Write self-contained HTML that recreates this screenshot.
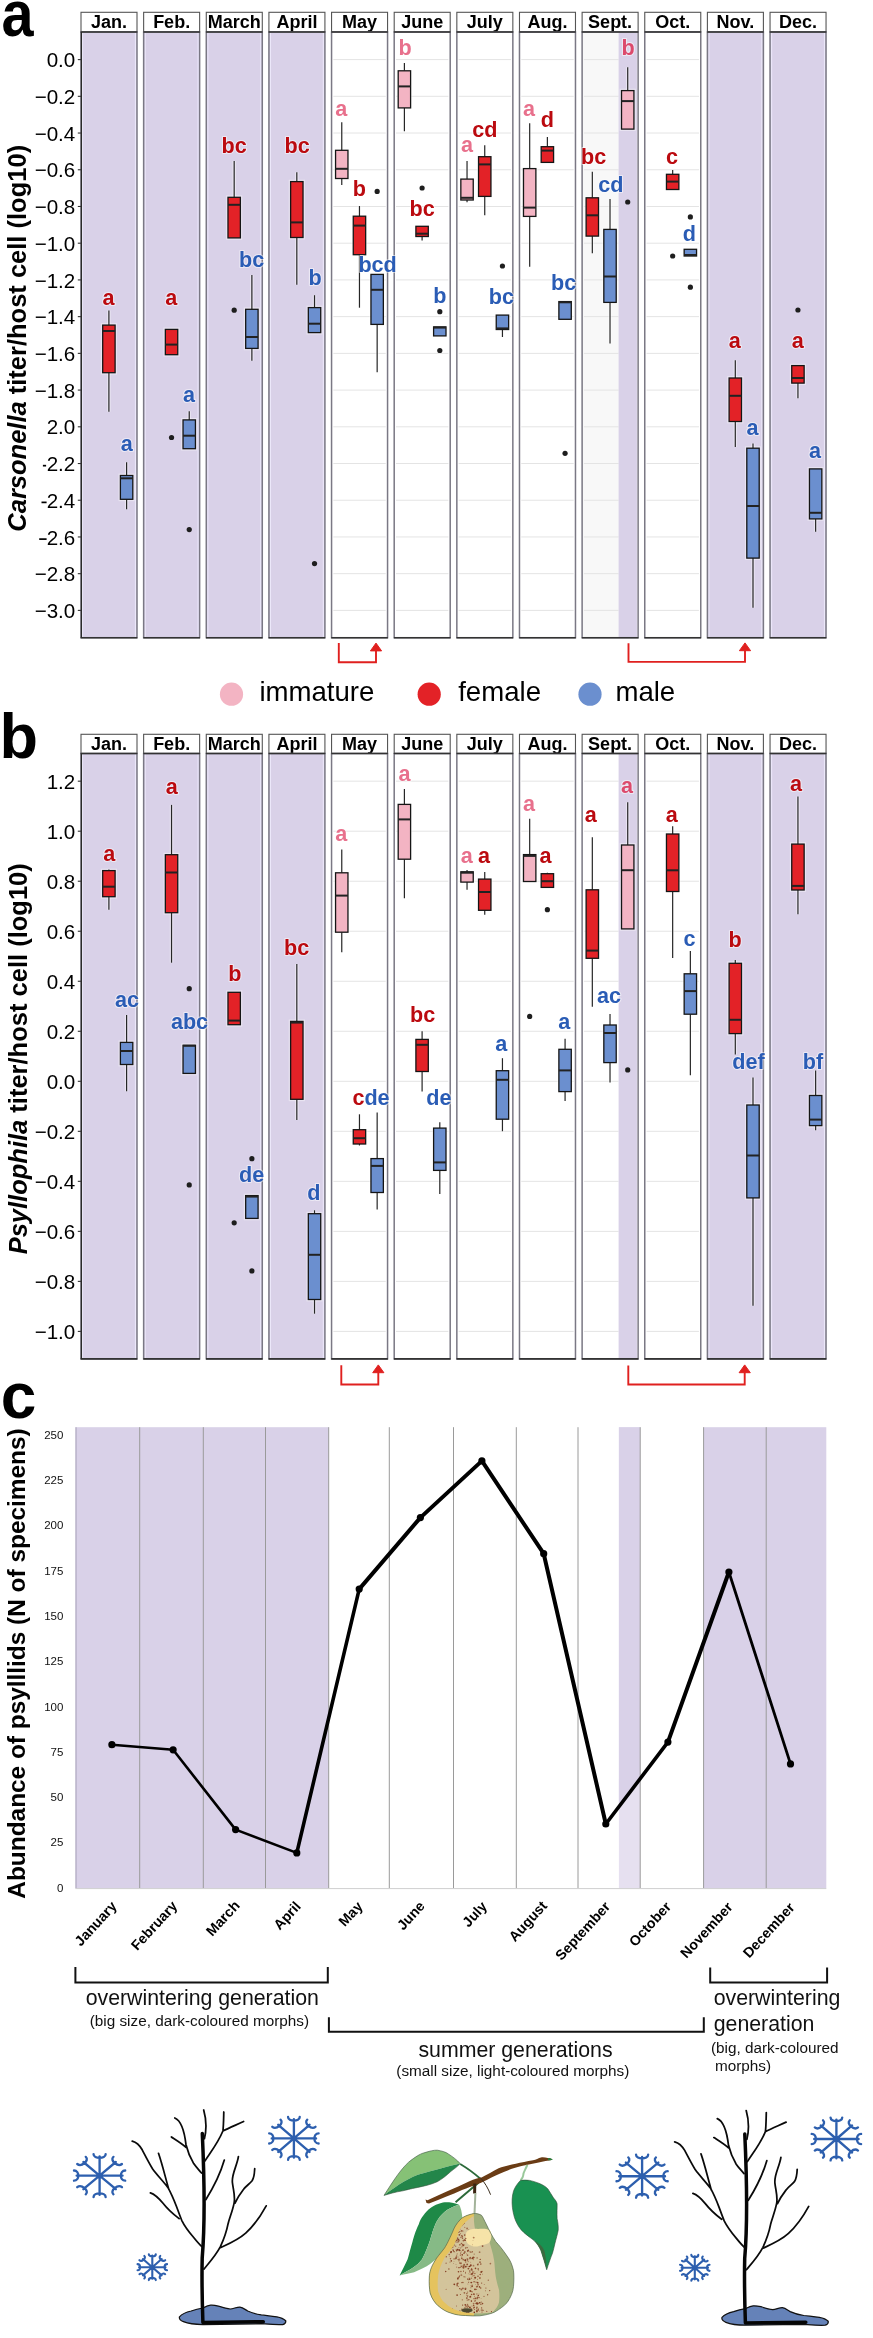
<!DOCTYPE html><html><head><meta charset="utf-8"><title>Figure</title>
<style>html,body{margin:0;padding:0;background:#fff;width:873px;height:2338px;overflow:hidden}svg{display:block;will-change:transform}svg text{font-family:"Liberation Sans",sans-serif}</style></head><body>
<svg width="873" height="2338" viewBox="0 0 873 2338">
<rect width="873" height="2338" fill="#fff"/>
<text transform="translate(1.4,35.5) scale(0.9,1)" font-size="64" font-weight="bold" fill="#000" font-family="Liberation Sans, sans-serif">a</text>
<rect x="81.00" y="12.30" width="56.0" height="19.70" fill="#fff" stroke="#555" stroke-width="1.1"/>
<text x="109.00" y="28.20" text-anchor="middle" font-size="18" font-weight="bold" fill="#000" font-family="Liberation Sans, sans-serif">Jan.</text>
<rect x="81.00" y="32.00" width="56.0" height="605.70" fill="#d9d1e8"/>
<line x1="82.55" x2="82.55" y1="32.00" y2="637.70" stroke="#ece8fa" stroke-width="1.1"/>
<line x1="135.45" x2="135.45" y1="32.00" y2="637.70" stroke="#ece8fa" stroke-width="1.1"/>
<rect x="143.64" y="12.30" width="56.0" height="19.70" fill="#fff" stroke="#555" stroke-width="1.1"/>
<text x="171.64" y="28.20" text-anchor="middle" font-size="18" font-weight="bold" fill="#000" font-family="Liberation Sans, sans-serif">Feb.</text>
<rect x="143.64" y="32.00" width="56.0" height="605.70" fill="#d9d1e8"/>
<line x1="145.19" x2="145.19" y1="32.00" y2="637.70" stroke="#ece8fa" stroke-width="1.1"/>
<line x1="198.09" x2="198.09" y1="32.00" y2="637.70" stroke="#ece8fa" stroke-width="1.1"/>
<rect x="206.28" y="12.30" width="56.0" height="19.70" fill="#fff" stroke="#555" stroke-width="1.1"/>
<text x="234.28" y="28.20" text-anchor="middle" font-size="18" font-weight="bold" fill="#000" font-family="Liberation Sans, sans-serif">March</text>
<rect x="206.28" y="32.00" width="56.0" height="605.70" fill="#d9d1e8"/>
<line x1="207.83" x2="207.83" y1="32.00" y2="637.70" stroke="#ece8fa" stroke-width="1.1"/>
<line x1="260.73" x2="260.73" y1="32.00" y2="637.70" stroke="#ece8fa" stroke-width="1.1"/>
<rect x="268.92" y="12.30" width="56.0" height="19.70" fill="#fff" stroke="#555" stroke-width="1.1"/>
<text x="296.92" y="28.20" text-anchor="middle" font-size="18" font-weight="bold" fill="#000" font-family="Liberation Sans, sans-serif">April</text>
<rect x="268.92" y="32.00" width="56.0" height="605.70" fill="#d9d1e8"/>
<line x1="270.47" x2="270.47" y1="32.00" y2="637.70" stroke="#ece8fa" stroke-width="1.1"/>
<line x1="323.37" x2="323.37" y1="32.00" y2="637.70" stroke="#ece8fa" stroke-width="1.1"/>
<rect x="331.56" y="12.30" width="56.0" height="19.70" fill="#fff" stroke="#555" stroke-width="1.1"/>
<text x="359.56" y="28.20" text-anchor="middle" font-size="18" font-weight="bold" fill="#000" font-family="Liberation Sans, sans-serif">May</text>
<rect x="331.56" y="32.00" width="56.0" height="605.70" fill="#fff"/>
<line x1="333.36" x2="385.76" y1="59.60" y2="59.60" stroke="#e4e4e4" stroke-width="1"/>
<line x1="333.36" x2="385.76" y1="96.32" y2="96.32" stroke="#e4e4e4" stroke-width="1"/>
<line x1="333.36" x2="385.76" y1="133.04" y2="133.04" stroke="#e4e4e4" stroke-width="1"/>
<line x1="333.36" x2="385.76" y1="169.76" y2="169.76" stroke="#e4e4e4" stroke-width="1"/>
<line x1="333.36" x2="385.76" y1="206.48" y2="206.48" stroke="#e4e4e4" stroke-width="1"/>
<line x1="333.36" x2="385.76" y1="243.20" y2="243.20" stroke="#e4e4e4" stroke-width="1"/>
<line x1="333.36" x2="385.76" y1="279.92" y2="279.92" stroke="#e4e4e4" stroke-width="1"/>
<line x1="333.36" x2="385.76" y1="316.64" y2="316.64" stroke="#e4e4e4" stroke-width="1"/>
<line x1="333.36" x2="385.76" y1="353.36" y2="353.36" stroke="#e4e4e4" stroke-width="1"/>
<line x1="333.36" x2="385.76" y1="390.08" y2="390.08" stroke="#e4e4e4" stroke-width="1"/>
<line x1="333.36" x2="385.76" y1="426.80" y2="426.80" stroke="#e4e4e4" stroke-width="1"/>
<line x1="333.36" x2="385.76" y1="463.52" y2="463.52" stroke="#e4e4e4" stroke-width="1"/>
<line x1="333.36" x2="385.76" y1="500.24" y2="500.24" stroke="#e4e4e4" stroke-width="1"/>
<line x1="333.36" x2="385.76" y1="536.96" y2="536.96" stroke="#e4e4e4" stroke-width="1"/>
<line x1="333.36" x2="385.76" y1="573.68" y2="573.68" stroke="#e4e4e4" stroke-width="1"/>
<line x1="333.36" x2="385.76" y1="610.40" y2="610.40" stroke="#e4e4e4" stroke-width="1"/>
<rect x="394.20" y="12.30" width="56.0" height="19.70" fill="#fff" stroke="#555" stroke-width="1.1"/>
<text x="422.20" y="28.20" text-anchor="middle" font-size="18" font-weight="bold" fill="#000" font-family="Liberation Sans, sans-serif">June</text>
<rect x="394.20" y="32.00" width="56.0" height="605.70" fill="#fff"/>
<line x1="396.00" x2="448.40" y1="59.60" y2="59.60" stroke="#e4e4e4" stroke-width="1"/>
<line x1="396.00" x2="448.40" y1="96.32" y2="96.32" stroke="#e4e4e4" stroke-width="1"/>
<line x1="396.00" x2="448.40" y1="133.04" y2="133.04" stroke="#e4e4e4" stroke-width="1"/>
<line x1="396.00" x2="448.40" y1="169.76" y2="169.76" stroke="#e4e4e4" stroke-width="1"/>
<line x1="396.00" x2="448.40" y1="206.48" y2="206.48" stroke="#e4e4e4" stroke-width="1"/>
<line x1="396.00" x2="448.40" y1="243.20" y2="243.20" stroke="#e4e4e4" stroke-width="1"/>
<line x1="396.00" x2="448.40" y1="279.92" y2="279.92" stroke="#e4e4e4" stroke-width="1"/>
<line x1="396.00" x2="448.40" y1="316.64" y2="316.64" stroke="#e4e4e4" stroke-width="1"/>
<line x1="396.00" x2="448.40" y1="353.36" y2="353.36" stroke="#e4e4e4" stroke-width="1"/>
<line x1="396.00" x2="448.40" y1="390.08" y2="390.08" stroke="#e4e4e4" stroke-width="1"/>
<line x1="396.00" x2="448.40" y1="426.80" y2="426.80" stroke="#e4e4e4" stroke-width="1"/>
<line x1="396.00" x2="448.40" y1="463.52" y2="463.52" stroke="#e4e4e4" stroke-width="1"/>
<line x1="396.00" x2="448.40" y1="500.24" y2="500.24" stroke="#e4e4e4" stroke-width="1"/>
<line x1="396.00" x2="448.40" y1="536.96" y2="536.96" stroke="#e4e4e4" stroke-width="1"/>
<line x1="396.00" x2="448.40" y1="573.68" y2="573.68" stroke="#e4e4e4" stroke-width="1"/>
<line x1="396.00" x2="448.40" y1="610.40" y2="610.40" stroke="#e4e4e4" stroke-width="1"/>
<rect x="456.84" y="12.30" width="56.0" height="19.70" fill="#fff" stroke="#555" stroke-width="1.1"/>
<text x="484.84" y="28.20" text-anchor="middle" font-size="18" font-weight="bold" fill="#000" font-family="Liberation Sans, sans-serif">July</text>
<rect x="456.84" y="32.00" width="56.0" height="605.70" fill="#fff"/>
<line x1="458.64" x2="511.04" y1="59.60" y2="59.60" stroke="#e4e4e4" stroke-width="1"/>
<line x1="458.64" x2="511.04" y1="96.32" y2="96.32" stroke="#e4e4e4" stroke-width="1"/>
<line x1="458.64" x2="511.04" y1="133.04" y2="133.04" stroke="#e4e4e4" stroke-width="1"/>
<line x1="458.64" x2="511.04" y1="169.76" y2="169.76" stroke="#e4e4e4" stroke-width="1"/>
<line x1="458.64" x2="511.04" y1="206.48" y2="206.48" stroke="#e4e4e4" stroke-width="1"/>
<line x1="458.64" x2="511.04" y1="243.20" y2="243.20" stroke="#e4e4e4" stroke-width="1"/>
<line x1="458.64" x2="511.04" y1="279.92" y2="279.92" stroke="#e4e4e4" stroke-width="1"/>
<line x1="458.64" x2="511.04" y1="316.64" y2="316.64" stroke="#e4e4e4" stroke-width="1"/>
<line x1="458.64" x2="511.04" y1="353.36" y2="353.36" stroke="#e4e4e4" stroke-width="1"/>
<line x1="458.64" x2="511.04" y1="390.08" y2="390.08" stroke="#e4e4e4" stroke-width="1"/>
<line x1="458.64" x2="511.04" y1="426.80" y2="426.80" stroke="#e4e4e4" stroke-width="1"/>
<line x1="458.64" x2="511.04" y1="463.52" y2="463.52" stroke="#e4e4e4" stroke-width="1"/>
<line x1="458.64" x2="511.04" y1="500.24" y2="500.24" stroke="#e4e4e4" stroke-width="1"/>
<line x1="458.64" x2="511.04" y1="536.96" y2="536.96" stroke="#e4e4e4" stroke-width="1"/>
<line x1="458.64" x2="511.04" y1="573.68" y2="573.68" stroke="#e4e4e4" stroke-width="1"/>
<line x1="458.64" x2="511.04" y1="610.40" y2="610.40" stroke="#e4e4e4" stroke-width="1"/>
<rect x="519.48" y="12.30" width="56.0" height="19.70" fill="#fff" stroke="#555" stroke-width="1.1"/>
<text x="547.48" y="28.20" text-anchor="middle" font-size="18" font-weight="bold" fill="#000" font-family="Liberation Sans, sans-serif">Aug.</text>
<rect x="519.48" y="32.00" width="56.0" height="605.70" fill="#fff"/>
<line x1="521.28" x2="573.68" y1="59.60" y2="59.60" stroke="#e4e4e4" stroke-width="1"/>
<line x1="521.28" x2="573.68" y1="96.32" y2="96.32" stroke="#e4e4e4" stroke-width="1"/>
<line x1="521.28" x2="573.68" y1="133.04" y2="133.04" stroke="#e4e4e4" stroke-width="1"/>
<line x1="521.28" x2="573.68" y1="169.76" y2="169.76" stroke="#e4e4e4" stroke-width="1"/>
<line x1="521.28" x2="573.68" y1="206.48" y2="206.48" stroke="#e4e4e4" stroke-width="1"/>
<line x1="521.28" x2="573.68" y1="243.20" y2="243.20" stroke="#e4e4e4" stroke-width="1"/>
<line x1="521.28" x2="573.68" y1="279.92" y2="279.92" stroke="#e4e4e4" stroke-width="1"/>
<line x1="521.28" x2="573.68" y1="316.64" y2="316.64" stroke="#e4e4e4" stroke-width="1"/>
<line x1="521.28" x2="573.68" y1="353.36" y2="353.36" stroke="#e4e4e4" stroke-width="1"/>
<line x1="521.28" x2="573.68" y1="390.08" y2="390.08" stroke="#e4e4e4" stroke-width="1"/>
<line x1="521.28" x2="573.68" y1="426.80" y2="426.80" stroke="#e4e4e4" stroke-width="1"/>
<line x1="521.28" x2="573.68" y1="463.52" y2="463.52" stroke="#e4e4e4" stroke-width="1"/>
<line x1="521.28" x2="573.68" y1="500.24" y2="500.24" stroke="#e4e4e4" stroke-width="1"/>
<line x1="521.28" x2="573.68" y1="536.96" y2="536.96" stroke="#e4e4e4" stroke-width="1"/>
<line x1="521.28" x2="573.68" y1="573.68" y2="573.68" stroke="#e4e4e4" stroke-width="1"/>
<line x1="521.28" x2="573.68" y1="610.40" y2="610.40" stroke="#e4e4e4" stroke-width="1"/>
<rect x="582.12" y="12.30" width="56.0" height="19.70" fill="#fff" stroke="#555" stroke-width="1.1"/>
<text x="610.12" y="28.20" text-anchor="middle" font-size="18" font-weight="bold" fill="#000" font-family="Liberation Sans, sans-serif">Sept.</text>
<rect x="582.12" y="32.00" width="56.0" height="605.70" fill="#f8f8f8"/>
<line x1="583.92" x2="618.60" y1="59.60" y2="59.60" stroke="#e4e4e4" stroke-width="1"/>
<line x1="583.92" x2="618.60" y1="96.32" y2="96.32" stroke="#e4e4e4" stroke-width="1"/>
<line x1="583.92" x2="618.60" y1="133.04" y2="133.04" stroke="#e4e4e4" stroke-width="1"/>
<line x1="583.92" x2="618.60" y1="169.76" y2="169.76" stroke="#e4e4e4" stroke-width="1"/>
<line x1="583.92" x2="618.60" y1="206.48" y2="206.48" stroke="#e4e4e4" stroke-width="1"/>
<line x1="583.92" x2="618.60" y1="243.20" y2="243.20" stroke="#e4e4e4" stroke-width="1"/>
<line x1="583.92" x2="618.60" y1="279.92" y2="279.92" stroke="#e4e4e4" stroke-width="1"/>
<line x1="583.92" x2="618.60" y1="316.64" y2="316.64" stroke="#e4e4e4" stroke-width="1"/>
<line x1="583.92" x2="618.60" y1="353.36" y2="353.36" stroke="#e4e4e4" stroke-width="1"/>
<line x1="583.92" x2="618.60" y1="390.08" y2="390.08" stroke="#e4e4e4" stroke-width="1"/>
<line x1="583.92" x2="618.60" y1="426.80" y2="426.80" stroke="#e4e4e4" stroke-width="1"/>
<line x1="583.92" x2="618.60" y1="463.52" y2="463.52" stroke="#e4e4e4" stroke-width="1"/>
<line x1="583.92" x2="618.60" y1="500.24" y2="500.24" stroke="#e4e4e4" stroke-width="1"/>
<line x1="583.92" x2="618.60" y1="536.96" y2="536.96" stroke="#e4e4e4" stroke-width="1"/>
<line x1="583.92" x2="618.60" y1="573.68" y2="573.68" stroke="#e4e4e4" stroke-width="1"/>
<line x1="583.92" x2="618.60" y1="610.40" y2="610.40" stroke="#e4e4e4" stroke-width="1"/>
<rect x="618.6" y="32.00" width="18.32" height="605.70" fill="#d9d1e8"/>
<rect x="644.76" y="12.30" width="56.0" height="19.70" fill="#fff" stroke="#555" stroke-width="1.1"/>
<text x="672.76" y="28.20" text-anchor="middle" font-size="18" font-weight="bold" fill="#000" font-family="Liberation Sans, sans-serif">Oct.</text>
<rect x="644.76" y="32.00" width="56.0" height="605.70" fill="#fff"/>
<line x1="646.56" x2="698.96" y1="59.60" y2="59.60" stroke="#e4e4e4" stroke-width="1"/>
<line x1="646.56" x2="698.96" y1="96.32" y2="96.32" stroke="#e4e4e4" stroke-width="1"/>
<line x1="646.56" x2="698.96" y1="133.04" y2="133.04" stroke="#e4e4e4" stroke-width="1"/>
<line x1="646.56" x2="698.96" y1="169.76" y2="169.76" stroke="#e4e4e4" stroke-width="1"/>
<line x1="646.56" x2="698.96" y1="206.48" y2="206.48" stroke="#e4e4e4" stroke-width="1"/>
<line x1="646.56" x2="698.96" y1="243.20" y2="243.20" stroke="#e4e4e4" stroke-width="1"/>
<line x1="646.56" x2="698.96" y1="279.92" y2="279.92" stroke="#e4e4e4" stroke-width="1"/>
<line x1="646.56" x2="698.96" y1="316.64" y2="316.64" stroke="#e4e4e4" stroke-width="1"/>
<line x1="646.56" x2="698.96" y1="353.36" y2="353.36" stroke="#e4e4e4" stroke-width="1"/>
<line x1="646.56" x2="698.96" y1="390.08" y2="390.08" stroke="#e4e4e4" stroke-width="1"/>
<line x1="646.56" x2="698.96" y1="426.80" y2="426.80" stroke="#e4e4e4" stroke-width="1"/>
<line x1="646.56" x2="698.96" y1="463.52" y2="463.52" stroke="#e4e4e4" stroke-width="1"/>
<line x1="646.56" x2="698.96" y1="500.24" y2="500.24" stroke="#e4e4e4" stroke-width="1"/>
<line x1="646.56" x2="698.96" y1="536.96" y2="536.96" stroke="#e4e4e4" stroke-width="1"/>
<line x1="646.56" x2="698.96" y1="573.68" y2="573.68" stroke="#e4e4e4" stroke-width="1"/>
<line x1="646.56" x2="698.96" y1="610.40" y2="610.40" stroke="#e4e4e4" stroke-width="1"/>
<rect x="707.40" y="12.30" width="56.0" height="19.70" fill="#fff" stroke="#555" stroke-width="1.1"/>
<text x="735.40" y="28.20" text-anchor="middle" font-size="18" font-weight="bold" fill="#000" font-family="Liberation Sans, sans-serif">Nov.</text>
<rect x="707.40" y="32.00" width="56.0" height="605.70" fill="#d9d1e8"/>
<line x1="708.95" x2="708.95" y1="32.00" y2="637.70" stroke="#ece8fa" stroke-width="1.1"/>
<line x1="761.85" x2="761.85" y1="32.00" y2="637.70" stroke="#ece8fa" stroke-width="1.1"/>
<rect x="770.04" y="12.30" width="56.0" height="19.70" fill="#fff" stroke="#555" stroke-width="1.1"/>
<text x="798.04" y="28.20" text-anchor="middle" font-size="18" font-weight="bold" fill="#000" font-family="Liberation Sans, sans-serif">Dec.</text>
<rect x="770.04" y="32.00" width="56.0" height="605.70" fill="#d9d1e8"/>
<line x1="771.59" x2="771.59" y1="32.00" y2="637.70" stroke="#ece8fa" stroke-width="1.1"/>
<line x1="824.49" x2="824.49" y1="32.00" y2="637.70" stroke="#ece8fa" stroke-width="1.1"/>
<rect x="81.00" y="32.00" width="56.0" height="605.70" fill="none" stroke="#7a7884" stroke-width="1.5"/>
<line x1="80.70" x2="137.30" y1="637.70" y2="637.70" stroke="#333" stroke-width="1.6"/>
<line x1="80.70" x2="137.30" y1="32.00" y2="32.00" stroke="#333" stroke-width="1.6"/>
<rect x="143.64" y="32.00" width="56.0" height="605.70" fill="none" stroke="#7a7884" stroke-width="1.5"/>
<line x1="143.34" x2="199.94" y1="637.70" y2="637.70" stroke="#333" stroke-width="1.6"/>
<line x1="143.34" x2="199.94" y1="32.00" y2="32.00" stroke="#333" stroke-width="1.6"/>
<rect x="206.28" y="32.00" width="56.0" height="605.70" fill="none" stroke="#7a7884" stroke-width="1.5"/>
<line x1="205.98" x2="262.58" y1="637.70" y2="637.70" stroke="#333" stroke-width="1.6"/>
<line x1="205.98" x2="262.58" y1="32.00" y2="32.00" stroke="#333" stroke-width="1.6"/>
<rect x="268.92" y="32.00" width="56.0" height="605.70" fill="none" stroke="#7a7884" stroke-width="1.5"/>
<line x1="268.62" x2="325.22" y1="637.70" y2="637.70" stroke="#333" stroke-width="1.6"/>
<line x1="268.62" x2="325.22" y1="32.00" y2="32.00" stroke="#333" stroke-width="1.6"/>
<rect x="331.56" y="32.00" width="56.0" height="605.70" fill="none" stroke="#7a7884" stroke-width="1.5"/>
<line x1="331.26" x2="387.86" y1="637.70" y2="637.70" stroke="#333" stroke-width="1.6"/>
<line x1="331.26" x2="387.86" y1="32.00" y2="32.00" stroke="#333" stroke-width="1.6"/>
<rect x="394.20" y="32.00" width="56.0" height="605.70" fill="none" stroke="#7a7884" stroke-width="1.5"/>
<line x1="393.90" x2="450.50" y1="637.70" y2="637.70" stroke="#333" stroke-width="1.6"/>
<line x1="393.90" x2="450.50" y1="32.00" y2="32.00" stroke="#333" stroke-width="1.6"/>
<rect x="456.84" y="32.00" width="56.0" height="605.70" fill="none" stroke="#7a7884" stroke-width="1.5"/>
<line x1="456.54" x2="513.14" y1="637.70" y2="637.70" stroke="#333" stroke-width="1.6"/>
<line x1="456.54" x2="513.14" y1="32.00" y2="32.00" stroke="#333" stroke-width="1.6"/>
<rect x="519.48" y="32.00" width="56.0" height="605.70" fill="none" stroke="#7a7884" stroke-width="1.5"/>
<line x1="519.18" x2="575.78" y1="637.70" y2="637.70" stroke="#333" stroke-width="1.6"/>
<line x1="519.18" x2="575.78" y1="32.00" y2="32.00" stroke="#333" stroke-width="1.6"/>
<rect x="582.12" y="32.00" width="56.0" height="605.70" fill="none" stroke="#7a7884" stroke-width="1.5"/>
<line x1="581.82" x2="638.42" y1="637.70" y2="637.70" stroke="#333" stroke-width="1.6"/>
<line x1="581.82" x2="638.42" y1="32.00" y2="32.00" stroke="#333" stroke-width="1.6"/>
<rect x="644.76" y="32.00" width="56.0" height="605.70" fill="none" stroke="#7a7884" stroke-width="1.5"/>
<line x1="644.46" x2="701.06" y1="637.70" y2="637.70" stroke="#333" stroke-width="1.6"/>
<line x1="644.46" x2="701.06" y1="32.00" y2="32.00" stroke="#333" stroke-width="1.6"/>
<rect x="707.40" y="32.00" width="56.0" height="605.70" fill="none" stroke="#7a7884" stroke-width="1.5"/>
<line x1="707.10" x2="763.70" y1="637.70" y2="637.70" stroke="#333" stroke-width="1.6"/>
<line x1="707.10" x2="763.70" y1="32.00" y2="32.00" stroke="#333" stroke-width="1.6"/>
<rect x="770.04" y="32.00" width="56.0" height="605.70" fill="none" stroke="#7a7884" stroke-width="1.5"/>
<line x1="769.74" x2="826.34" y1="637.70" y2="637.70" stroke="#333" stroke-width="1.6"/>
<line x1="769.74" x2="826.34" y1="32.00" y2="32.00" stroke="#333" stroke-width="1.6"/>
<line x1="108.90" x2="108.90" y1="310.50" y2="325.10" stroke="#fff" stroke-opacity="0.4" stroke-width="3.6"/>
<line x1="108.90" x2="108.90" y1="372.70" y2="411.70" stroke="#fff" stroke-opacity="0.4" stroke-width="3.6"/>
<rect x="102.70" y="325.10" width="12.40" height="47.60" fill="none" stroke="#fff" stroke-opacity="0.4" stroke-width="3.8"/>
<line x1="126.60" x2="126.60" y1="462.20" y2="475.50" stroke="#fff" stroke-opacity="0.4" stroke-width="3.6"/>
<line x1="126.60" x2="126.60" y1="499.30" y2="509.20" stroke="#fff" stroke-opacity="0.4" stroke-width="3.6"/>
<rect x="120.40" y="475.50" width="12.40" height="23.80" fill="none" stroke="#fff" stroke-opacity="0.4" stroke-width="3.8"/>
<rect x="165.34" y="329.40" width="12.40" height="25.30" fill="none" stroke="#fff" stroke-opacity="0.4" stroke-width="3.8"/>
<line x1="189.24" x2="189.24" y1="411.30" y2="419.90" stroke="#fff" stroke-opacity="0.4" stroke-width="3.6"/>
<rect x="183.04" y="419.90" width="12.40" height="28.80" fill="none" stroke="#fff" stroke-opacity="0.4" stroke-width="3.8"/>
<line x1="234.18" x2="234.18" y1="161.00" y2="197.30" stroke="#fff" stroke-opacity="0.4" stroke-width="3.6"/>
<rect x="227.98" y="197.30" width="12.40" height="40.60" fill="none" stroke="#fff" stroke-opacity="0.4" stroke-width="3.8"/>
<line x1="251.88" x2="251.88" y1="275.00" y2="309.30" stroke="#fff" stroke-opacity="0.4" stroke-width="3.6"/>
<line x1="251.88" x2="251.88" y1="348.40" y2="360.80" stroke="#fff" stroke-opacity="0.4" stroke-width="3.6"/>
<rect x="245.68" y="309.30" width="12.40" height="39.10" fill="none" stroke="#fff" stroke-opacity="0.4" stroke-width="3.8"/>
<line x1="296.82" x2="296.82" y1="172.20" y2="181.60" stroke="#fff" stroke-opacity="0.4" stroke-width="3.6"/>
<line x1="296.82" x2="296.82" y1="237.50" y2="284.70" stroke="#fff" stroke-opacity="0.4" stroke-width="3.6"/>
<rect x="290.62" y="181.60" width="12.40" height="55.90" fill="none" stroke="#fff" stroke-opacity="0.4" stroke-width="3.8"/>
<line x1="314.52" x2="314.52" y1="295.20" y2="307.60" stroke="#fff" stroke-opacity="0.4" stroke-width="3.6"/>
<rect x="308.32" y="307.60" width="12.40" height="25.00" fill="none" stroke="#fff" stroke-opacity="0.4" stroke-width="3.8"/>
<line x1="341.76" x2="341.76" y1="122.30" y2="150.30" stroke="#fff" stroke-opacity="0.4" stroke-width="3.6"/>
<line x1="341.76" x2="341.76" y1="178.50" y2="184.90" stroke="#fff" stroke-opacity="0.4" stroke-width="3.6"/>
<rect x="335.56" y="150.30" width="12.40" height="28.20" fill="none" stroke="#fff" stroke-opacity="0.4" stroke-width="3.8"/>
<line x1="359.46" x2="359.46" y1="206.00" y2="216.20" stroke="#fff" stroke-opacity="0.4" stroke-width="3.6"/>
<line x1="359.46" x2="359.46" y1="254.70" y2="307.70" stroke="#fff" stroke-opacity="0.4" stroke-width="3.6"/>
<rect x="353.26" y="216.20" width="12.40" height="38.50" fill="none" stroke="#fff" stroke-opacity="0.4" stroke-width="3.8"/>
<line x1="377.16" x2="377.16" y1="324.40" y2="372.30" stroke="#fff" stroke-opacity="0.4" stroke-width="3.6"/>
<rect x="370.96" y="274.40" width="12.40" height="50.00" fill="none" stroke="#fff" stroke-opacity="0.4" stroke-width="3.8"/>
<line x1="404.40" x2="404.40" y1="63.10" y2="70.80" stroke="#fff" stroke-opacity="0.4" stroke-width="3.6"/>
<line x1="404.40" x2="404.40" y1="107.90" y2="131.30" stroke="#fff" stroke-opacity="0.4" stroke-width="3.6"/>
<rect x="398.20" y="70.80" width="12.40" height="37.10" fill="none" stroke="#fff" stroke-opacity="0.4" stroke-width="3.8"/>
<line x1="422.10" x2="422.10" y1="236.50" y2="240.40" stroke="#fff" stroke-opacity="0.4" stroke-width="3.6"/>
<rect x="415.90" y="226.30" width="12.40" height="10.20" fill="none" stroke="#fff" stroke-opacity="0.4" stroke-width="3.8"/>
<rect x="433.60" y="326.90" width="12.40" height="9.00" fill="none" stroke="#fff" stroke-opacity="0.4" stroke-width="3.8"/>
<line x1="467.04" x2="467.04" y1="161.10" y2="179.10" stroke="#fff" stroke-opacity="0.4" stroke-width="3.6"/>
<line x1="467.04" x2="467.04" y1="200.00" y2="202.20" stroke="#fff" stroke-opacity="0.4" stroke-width="3.6"/>
<rect x="460.84" y="179.10" width="12.40" height="20.90" fill="none" stroke="#fff" stroke-opacity="0.4" stroke-width="3.8"/>
<line x1="484.74" x2="484.74" y1="145.30" y2="156.70" stroke="#fff" stroke-opacity="0.4" stroke-width="3.6"/>
<line x1="484.74" x2="484.74" y1="196.40" y2="215.30" stroke="#fff" stroke-opacity="0.4" stroke-width="3.6"/>
<rect x="478.54" y="156.70" width="12.40" height="39.70" fill="none" stroke="#fff" stroke-opacity="0.4" stroke-width="3.8"/>
<line x1="502.44" x2="502.44" y1="329.50" y2="337.00" stroke="#fff" stroke-opacity="0.4" stroke-width="3.6"/>
<rect x="496.24" y="315.10" width="12.40" height="14.40" fill="none" stroke="#fff" stroke-opacity="0.4" stroke-width="3.8"/>
<line x1="529.68" x2="529.68" y1="123.30" y2="168.60" stroke="#fff" stroke-opacity="0.4" stroke-width="3.6"/>
<line x1="529.68" x2="529.68" y1="216.40" y2="266.70" stroke="#fff" stroke-opacity="0.4" stroke-width="3.6"/>
<rect x="523.48" y="168.60" width="12.40" height="47.80" fill="none" stroke="#fff" stroke-opacity="0.4" stroke-width="3.8"/>
<line x1="547.38" x2="547.38" y1="136.90" y2="146.70" stroke="#fff" stroke-opacity="0.4" stroke-width="3.6"/>
<rect x="541.18" y="146.70" width="12.40" height="15.70" fill="none" stroke="#fff" stroke-opacity="0.4" stroke-width="3.8"/>
<rect x="558.88" y="301.60" width="12.40" height="17.70" fill="none" stroke="#fff" stroke-opacity="0.4" stroke-width="3.8"/>
<line x1="592.32" x2="592.32" y1="171.70" y2="197.80" stroke="#fff" stroke-opacity="0.4" stroke-width="3.6"/>
<line x1="592.32" x2="592.32" y1="236.10" y2="253.30" stroke="#fff" stroke-opacity="0.4" stroke-width="3.6"/>
<rect x="586.12" y="197.80" width="12.40" height="38.30" fill="none" stroke="#fff" stroke-opacity="0.4" stroke-width="3.8"/>
<line x1="610.02" x2="610.02" y1="198.90" y2="229.40" stroke="#fff" stroke-opacity="0.4" stroke-width="3.6"/>
<line x1="610.02" x2="610.02" y1="302.40" y2="343.50" stroke="#fff" stroke-opacity="0.4" stroke-width="3.6"/>
<rect x="603.82" y="229.40" width="12.40" height="73.00" fill="none" stroke="#fff" stroke-opacity="0.4" stroke-width="3.8"/>
<line x1="627.72" x2="627.72" y1="67.20" y2="90.60" stroke="#fff" stroke-opacity="0.4" stroke-width="3.6"/>
<rect x="621.52" y="90.60" width="12.40" height="38.50" fill="none" stroke="#fff" stroke-opacity="0.4" stroke-width="3.8"/>
<line x1="672.66" x2="672.66" y1="170.00" y2="174.30" stroke="#fff" stroke-opacity="0.4" stroke-width="3.6"/>
<rect x="666.46" y="174.30" width="12.40" height="15.20" fill="none" stroke="#fff" stroke-opacity="0.4" stroke-width="3.8"/>
<rect x="684.16" y="249.30" width="12.40" height="6.70" fill="none" stroke="#fff" stroke-opacity="0.4" stroke-width="3.8"/>
<line x1="735.30" x2="735.30" y1="360.20" y2="378.00" stroke="#fff" stroke-opacity="0.4" stroke-width="3.6"/>
<line x1="735.30" x2="735.30" y1="421.50" y2="447.10" stroke="#fff" stroke-opacity="0.4" stroke-width="3.6"/>
<rect x="729.10" y="378.00" width="12.40" height="43.50" fill="none" stroke="#fff" stroke-opacity="0.4" stroke-width="3.8"/>
<line x1="753.00" x2="753.00" y1="443.40" y2="448.20" stroke="#fff" stroke-opacity="0.4" stroke-width="3.6"/>
<line x1="753.00" x2="753.00" y1="558.10" y2="607.80" stroke="#fff" stroke-opacity="0.4" stroke-width="3.6"/>
<rect x="746.80" y="448.20" width="12.40" height="109.90" fill="none" stroke="#fff" stroke-opacity="0.4" stroke-width="3.8"/>
<line x1="797.94" x2="797.94" y1="383.10" y2="398.30" stroke="#fff" stroke-opacity="0.4" stroke-width="3.6"/>
<rect x="791.74" y="365.60" width="12.40" height="17.50" fill="none" stroke="#fff" stroke-opacity="0.4" stroke-width="3.8"/>
<line x1="815.64" x2="815.64" y1="518.90" y2="531.70" stroke="#fff" stroke-opacity="0.4" stroke-width="3.6"/>
<rect x="809.44" y="468.90" width="12.40" height="50.00" fill="none" stroke="#fff" stroke-opacity="0.4" stroke-width="3.8"/>
<line x1="108.90" x2="108.90" y1="310.50" y2="325.10" stroke="#262626" stroke-width="1.2"/>
<line x1="108.90" x2="108.90" y1="372.70" y2="411.70" stroke="#262626" stroke-width="1.2"/>
<rect x="102.70" y="325.10" width="12.40" height="47.60" fill="#e32227" stroke="#151515" stroke-width="1.3"/>
<line x1="102.70" x2="115.10" y1="331.00" y2="331.00" stroke="#222" stroke-width="2.0"/>
<line x1="126.60" x2="126.60" y1="462.20" y2="475.50" stroke="#262626" stroke-width="1.2"/>
<line x1="126.60" x2="126.60" y1="499.30" y2="509.20" stroke="#262626" stroke-width="1.2"/>
<rect x="120.40" y="475.50" width="12.40" height="23.80" fill="#6b8fcf" stroke="#151515" stroke-width="1.3"/>
<line x1="120.40" x2="132.80" y1="478.30" y2="478.30" stroke="#222" stroke-width="2.0"/>
<rect x="165.34" y="329.40" width="12.40" height="25.30" fill="#e32227" stroke="#151515" stroke-width="1.3"/>
<line x1="165.34" x2="177.74" y1="344.60" y2="344.60" stroke="#222" stroke-width="2.0"/>
<line x1="189.24" x2="189.24" y1="411.30" y2="419.90" stroke="#262626" stroke-width="1.2"/>
<rect x="183.04" y="419.90" width="12.40" height="28.80" fill="#6b8fcf" stroke="#151515" stroke-width="1.3"/>
<line x1="183.04" x2="195.44" y1="435.70" y2="435.70" stroke="#222" stroke-width="2.0"/>
<line x1="234.18" x2="234.18" y1="161.00" y2="197.30" stroke="#262626" stroke-width="1.2"/>
<rect x="227.98" y="197.30" width="12.40" height="40.60" fill="#e32227" stroke="#151515" stroke-width="1.3"/>
<line x1="227.98" x2="240.38" y1="204.80" y2="204.80" stroke="#222" stroke-width="2.0"/>
<line x1="251.88" x2="251.88" y1="275.00" y2="309.30" stroke="#262626" stroke-width="1.2"/>
<line x1="251.88" x2="251.88" y1="348.40" y2="360.80" stroke="#262626" stroke-width="1.2"/>
<rect x="245.68" y="309.30" width="12.40" height="39.10" fill="#6b8fcf" stroke="#151515" stroke-width="1.3"/>
<line x1="245.68" x2="258.08" y1="337.00" y2="337.00" stroke="#222" stroke-width="2.0"/>
<line x1="296.82" x2="296.82" y1="172.20" y2="181.60" stroke="#262626" stroke-width="1.2"/>
<line x1="296.82" x2="296.82" y1="237.50" y2="284.70" stroke="#262626" stroke-width="1.2"/>
<rect x="290.62" y="181.60" width="12.40" height="55.90" fill="#e32227" stroke="#151515" stroke-width="1.3"/>
<line x1="290.62" x2="303.02" y1="222.40" y2="222.40" stroke="#222" stroke-width="2.0"/>
<line x1="314.52" x2="314.52" y1="295.20" y2="307.60" stroke="#262626" stroke-width="1.2"/>
<rect x="308.32" y="307.60" width="12.40" height="25.00" fill="#6b8fcf" stroke="#151515" stroke-width="1.3"/>
<line x1="308.32" x2="320.72" y1="323.70" y2="323.70" stroke="#222" stroke-width="2.0"/>
<line x1="341.76" x2="341.76" y1="122.30" y2="150.30" stroke="#262626" stroke-width="1.2"/>
<line x1="341.76" x2="341.76" y1="178.50" y2="184.90" stroke="#262626" stroke-width="1.2"/>
<rect x="335.56" y="150.30" width="12.40" height="28.20" fill="#f3b4c3" stroke="#151515" stroke-width="1.3"/>
<line x1="335.56" x2="347.96" y1="168.80" y2="168.80" stroke="#222" stroke-width="2.0"/>
<line x1="359.46" x2="359.46" y1="206.00" y2="216.20" stroke="#262626" stroke-width="1.2"/>
<line x1="359.46" x2="359.46" y1="254.70" y2="307.70" stroke="#262626" stroke-width="1.2"/>
<rect x="353.26" y="216.20" width="12.40" height="38.50" fill="#e32227" stroke="#151515" stroke-width="1.3"/>
<line x1="353.26" x2="365.66" y1="225.60" y2="225.60" stroke="#222" stroke-width="2.0"/>
<line x1="377.16" x2="377.16" y1="324.40" y2="372.30" stroke="#262626" stroke-width="1.2"/>
<rect x="370.96" y="274.40" width="12.40" height="50.00" fill="#6b8fcf" stroke="#151515" stroke-width="1.3"/>
<line x1="370.96" x2="383.36" y1="289.80" y2="289.80" stroke="#222" stroke-width="2.0"/>
<line x1="404.40" x2="404.40" y1="63.10" y2="70.80" stroke="#262626" stroke-width="1.2"/>
<line x1="404.40" x2="404.40" y1="107.90" y2="131.30" stroke="#262626" stroke-width="1.2"/>
<rect x="398.20" y="70.80" width="12.40" height="37.10" fill="#f3b4c3" stroke="#151515" stroke-width="1.3"/>
<line x1="398.20" x2="410.60" y1="86.40" y2="86.40" stroke="#222" stroke-width="2.0"/>
<line x1="422.10" x2="422.10" y1="236.50" y2="240.40" stroke="#262626" stroke-width="1.2"/>
<rect x="415.90" y="226.30" width="12.40" height="10.20" fill="#e32227" stroke="#151515" stroke-width="1.3"/>
<line x1="415.90" x2="428.30" y1="233.70" y2="233.70" stroke="#222" stroke-width="2.0"/>
<rect x="433.60" y="326.90" width="12.40" height="9.00" fill="#6b8fcf" stroke="#151515" stroke-width="1.3"/>
<line x1="433.60" x2="446.00" y1="327.60" y2="327.60" stroke="#222" stroke-width="2.0"/>
<line x1="467.04" x2="467.04" y1="161.10" y2="179.10" stroke="#262626" stroke-width="1.2"/>
<line x1="467.04" x2="467.04" y1="200.00" y2="202.20" stroke="#262626" stroke-width="1.2"/>
<rect x="460.84" y="179.10" width="12.40" height="20.90" fill="#f3b4c3" stroke="#151515" stroke-width="1.3"/>
<line x1="460.84" x2="473.24" y1="197.80" y2="197.80" stroke="#222" stroke-width="2.0"/>
<line x1="484.74" x2="484.74" y1="145.30" y2="156.70" stroke="#262626" stroke-width="1.2"/>
<line x1="484.74" x2="484.74" y1="196.40" y2="215.30" stroke="#262626" stroke-width="1.2"/>
<rect x="478.54" y="156.70" width="12.40" height="39.70" fill="#e32227" stroke="#151515" stroke-width="1.3"/>
<line x1="478.54" x2="490.94" y1="164.40" y2="164.40" stroke="#222" stroke-width="2.0"/>
<line x1="502.44" x2="502.44" y1="329.50" y2="337.00" stroke="#262626" stroke-width="1.2"/>
<rect x="496.24" y="315.10" width="12.40" height="14.40" fill="#6b8fcf" stroke="#151515" stroke-width="1.3"/>
<line x1="496.24" x2="508.64" y1="328.40" y2="328.40" stroke="#222" stroke-width="2.0"/>
<line x1="529.68" x2="529.68" y1="123.30" y2="168.60" stroke="#262626" stroke-width="1.2"/>
<line x1="529.68" x2="529.68" y1="216.40" y2="266.70" stroke="#262626" stroke-width="1.2"/>
<rect x="523.48" y="168.60" width="12.40" height="47.80" fill="#f3b4c3" stroke="#151515" stroke-width="1.3"/>
<line x1="523.48" x2="535.88" y1="207.60" y2="207.60" stroke="#222" stroke-width="2.0"/>
<line x1="547.38" x2="547.38" y1="136.90" y2="146.70" stroke="#262626" stroke-width="1.2"/>
<rect x="541.18" y="146.70" width="12.40" height="15.70" fill="#e32227" stroke="#151515" stroke-width="1.3"/>
<line x1="541.18" x2="553.58" y1="150.60" y2="150.60" stroke="#222" stroke-width="2.0"/>
<rect x="558.88" y="301.60" width="12.40" height="17.70" fill="#6b8fcf" stroke="#151515" stroke-width="1.3"/>
<line x1="558.88" x2="571.28" y1="302.30" y2="302.30" stroke="#222" stroke-width="2.0"/>
<line x1="592.32" x2="592.32" y1="171.70" y2="197.80" stroke="#262626" stroke-width="1.2"/>
<line x1="592.32" x2="592.32" y1="236.10" y2="253.30" stroke="#262626" stroke-width="1.2"/>
<rect x="586.12" y="197.80" width="12.40" height="38.30" fill="#e32227" stroke="#151515" stroke-width="1.3"/>
<line x1="586.12" x2="598.52" y1="215.30" y2="215.30" stroke="#222" stroke-width="2.0"/>
<line x1="610.02" x2="610.02" y1="198.90" y2="229.40" stroke="#262626" stroke-width="1.2"/>
<line x1="610.02" x2="610.02" y1="302.40" y2="343.50" stroke="#262626" stroke-width="1.2"/>
<rect x="603.82" y="229.40" width="12.40" height="73.00" fill="#6b8fcf" stroke="#151515" stroke-width="1.3"/>
<line x1="603.82" x2="616.22" y1="276.50" y2="276.50" stroke="#222" stroke-width="2.0"/>
<line x1="627.72" x2="627.72" y1="67.20" y2="90.60" stroke="#262626" stroke-width="1.2"/>
<rect x="621.52" y="90.60" width="12.40" height="38.50" fill="#f3b4c3" stroke="#151515" stroke-width="1.3"/>
<line x1="621.52" x2="633.92" y1="101.10" y2="101.10" stroke="#222" stroke-width="2.0"/>
<line x1="672.66" x2="672.66" y1="170.00" y2="174.30" stroke="#262626" stroke-width="1.2"/>
<rect x="666.46" y="174.30" width="12.40" height="15.20" fill="#e32227" stroke="#151515" stroke-width="1.3"/>
<line x1="666.46" x2="678.86" y1="181.60" y2="181.60" stroke="#222" stroke-width="2.0"/>
<rect x="684.16" y="249.30" width="12.40" height="6.70" fill="#6b8fcf" stroke="#151515" stroke-width="1.3"/>
<line x1="684.16" x2="696.56" y1="255.00" y2="255.00" stroke="#222" stroke-width="2.0"/>
<line x1="735.30" x2="735.30" y1="360.20" y2="378.00" stroke="#262626" stroke-width="1.2"/>
<line x1="735.30" x2="735.30" y1="421.50" y2="447.10" stroke="#262626" stroke-width="1.2"/>
<rect x="729.10" y="378.00" width="12.40" height="43.50" fill="#e32227" stroke="#151515" stroke-width="1.3"/>
<line x1="729.10" x2="741.50" y1="395.80" y2="395.80" stroke="#222" stroke-width="2.0"/>
<line x1="753.00" x2="753.00" y1="443.40" y2="448.20" stroke="#262626" stroke-width="1.2"/>
<line x1="753.00" x2="753.00" y1="558.10" y2="607.80" stroke="#262626" stroke-width="1.2"/>
<rect x="746.80" y="448.20" width="12.40" height="109.90" fill="#6b8fcf" stroke="#151515" stroke-width="1.3"/>
<line x1="746.80" x2="759.20" y1="506.00" y2="506.00" stroke="#222" stroke-width="2.0"/>
<line x1="797.94" x2="797.94" y1="383.10" y2="398.30" stroke="#262626" stroke-width="1.2"/>
<rect x="791.74" y="365.60" width="12.40" height="17.50" fill="#e32227" stroke="#151515" stroke-width="1.3"/>
<line x1="791.74" x2="804.14" y1="378.00" y2="378.00" stroke="#222" stroke-width="2.0"/>
<line x1="815.64" x2="815.64" y1="518.90" y2="531.70" stroke="#262626" stroke-width="1.2"/>
<rect x="809.44" y="468.90" width="12.40" height="50.00" fill="#6b8fcf" stroke="#151515" stroke-width="1.3"/>
<line x1="809.44" x2="821.84" y1="512.80" y2="512.80" stroke="#222" stroke-width="2.0"/>
<circle cx="171.54" cy="437.50" r="2.6" fill="#1e1e1e"/>
<circle cx="189.24" cy="529.60" r="2.6" fill="#1e1e1e"/>
<circle cx="234.18" cy="310.20" r="2.6" fill="#1e1e1e"/>
<circle cx="314.52" cy="563.60" r="2.6" fill="#1e1e1e"/>
<circle cx="377.16" cy="191.40" r="2.6" fill="#1e1e1e"/>
<circle cx="422.10" cy="188.00" r="2.6" fill="#1e1e1e"/>
<circle cx="439.80" cy="311.70" r="2.6" fill="#1e1e1e"/>
<circle cx="439.80" cy="350.50" r="2.6" fill="#1e1e1e"/>
<circle cx="502.44" cy="266.00" r="2.6" fill="#1e1e1e"/>
<circle cx="565.08" cy="453.30" r="2.6" fill="#1e1e1e"/>
<circle cx="627.72" cy="202.00" r="2.6" fill="#1e1e1e"/>
<circle cx="672.66" cy="256.00" r="2.6" fill="#1e1e1e"/>
<circle cx="690.36" cy="216.90" r="2.6" fill="#1e1e1e"/>
<circle cx="690.36" cy="287.20" r="2.6" fill="#1e1e1e"/>
<circle cx="797.94" cy="310.00" r="2.6" fill="#1e1e1e"/>
<text x="108.60" y="304.50" text-anchor="middle" font-size="21.6" font-weight="bold" fill="#bb0a0f" stroke="#fff" stroke-opacity="0.5" stroke-width="2.2" paint-order="stroke" stroke-linejoin="round" font-family="Liberation Sans, sans-serif">a</text>
<text x="126.70" y="451.20" text-anchor="middle" font-size="21.6" font-weight="bold" fill="#2a5cb5" stroke="#fff" stroke-opacity="0.5" stroke-width="2.2" paint-order="stroke" stroke-linejoin="round" font-family="Liberation Sans, sans-serif">a</text>
<text x="171.20" y="304.70" text-anchor="middle" font-size="21.6" font-weight="bold" fill="#bb0a0f" stroke="#fff" stroke-opacity="0.5" stroke-width="2.2" paint-order="stroke" stroke-linejoin="round" font-family="Liberation Sans, sans-serif">a</text>
<text x="188.90" y="401.70" text-anchor="middle" font-size="21.6" font-weight="bold" fill="#2a5cb5" stroke="#fff" stroke-opacity="0.5" stroke-width="2.2" paint-order="stroke" stroke-linejoin="round" font-family="Liberation Sans, sans-serif">a</text>
<text x="234.10" y="153.00" text-anchor="middle" font-size="21.6" font-weight="bold" fill="#bb0a0f" stroke="#fff" stroke-opacity="0.5" stroke-width="2.2" paint-order="stroke" stroke-linejoin="round" font-family="Liberation Sans, sans-serif">bc</text>
<text x="251.70" y="266.60" text-anchor="middle" font-size="21.6" font-weight="bold" fill="#2a5cb5" stroke="#fff" stroke-opacity="0.5" stroke-width="2.2" paint-order="stroke" stroke-linejoin="round" font-family="Liberation Sans, sans-serif">bc</text>
<text x="297.10" y="153.00" text-anchor="middle" font-size="21.6" font-weight="bold" fill="#bb0a0f" stroke="#fff" stroke-opacity="0.5" stroke-width="2.2" paint-order="stroke" stroke-linejoin="round" font-family="Liberation Sans, sans-serif">bc</text>
<text x="315.00" y="285.40" text-anchor="middle" font-size="21.6" font-weight="bold" fill="#2a5cb5" stroke="#fff" stroke-opacity="0.5" stroke-width="2.2" paint-order="stroke" stroke-linejoin="round" font-family="Liberation Sans, sans-serif">b</text>
<text x="341.30" y="115.50" text-anchor="middle" font-size="21.6" font-weight="bold" fill="#e8708c" stroke="#fff" stroke-opacity="0.5" stroke-width="2.2" paint-order="stroke" stroke-linejoin="round" font-family="Liberation Sans, sans-serif">a</text>
<text x="359.40" y="195.90" text-anchor="middle" font-size="21.6" font-weight="bold" fill="#bb0a0f" stroke="#fff" stroke-opacity="0.5" stroke-width="2.2" paint-order="stroke" stroke-linejoin="round" font-family="Liberation Sans, sans-serif">b</text>
<text x="377.60" y="271.60" text-anchor="middle" font-size="21.6" font-weight="bold" fill="#2a5cb5" stroke="#fff" stroke-opacity="0.5" stroke-width="2.2" paint-order="stroke" stroke-linejoin="round" font-family="Liberation Sans, sans-serif">bcd</text>
<text x="405.00" y="54.80" text-anchor="middle" font-size="21.6" font-weight="bold" fill="#e8708c" stroke="#fff" stroke-opacity="0.5" stroke-width="2.2" paint-order="stroke" stroke-linejoin="round" font-family="Liberation Sans, sans-serif">b</text>
<text x="422.10" y="216.10" text-anchor="middle" font-size="21.6" font-weight="bold" fill="#bb0a0f" stroke="#fff" stroke-opacity="0.5" stroke-width="2.2" paint-order="stroke" stroke-linejoin="round" font-family="Liberation Sans, sans-serif">bc</text>
<text x="439.90" y="303.10" text-anchor="middle" font-size="21.6" font-weight="bold" fill="#2a5cb5" stroke="#fff" stroke-opacity="0.5" stroke-width="2.2" paint-order="stroke" stroke-linejoin="round" font-family="Liberation Sans, sans-serif">b</text>
<text x="467.10" y="152.40" text-anchor="middle" font-size="21.6" font-weight="bold" fill="#e8708c" stroke="#fff" stroke-opacity="0.5" stroke-width="2.2" paint-order="stroke" stroke-linejoin="round" font-family="Liberation Sans, sans-serif">a</text>
<text x="484.90" y="136.90" text-anchor="middle" font-size="21.6" font-weight="bold" fill="#bb0a0f" stroke="#fff" stroke-opacity="0.5" stroke-width="2.2" paint-order="stroke" stroke-linejoin="round" font-family="Liberation Sans, sans-serif">cd</text>
<text x="501.30" y="303.70" text-anchor="middle" font-size="21.6" font-weight="bold" fill="#2a5cb5" stroke="#fff" stroke-opacity="0.5" stroke-width="2.2" paint-order="stroke" stroke-linejoin="round" font-family="Liberation Sans, sans-serif">bc</text>
<text x="529.10" y="115.50" text-anchor="middle" font-size="21.6" font-weight="bold" fill="#e8708c" stroke="#fff" stroke-opacity="0.5" stroke-width="2.2" paint-order="stroke" stroke-linejoin="round" font-family="Liberation Sans, sans-serif">a</text>
<text x="547.30" y="127.20" text-anchor="middle" font-size="21.6" font-weight="bold" fill="#bb0a0f" stroke="#fff" stroke-opacity="0.5" stroke-width="2.2" paint-order="stroke" stroke-linejoin="round" font-family="Liberation Sans, sans-serif">d</text>
<text x="563.60" y="290.00" text-anchor="middle" font-size="21.6" font-weight="bold" fill="#2a5cb5" stroke="#fff" stroke-opacity="0.5" stroke-width="2.2" paint-order="stroke" stroke-linejoin="round" font-family="Liberation Sans, sans-serif">bc</text>
<text x="593.60" y="163.90" text-anchor="middle" font-size="21.6" font-weight="bold" fill="#bb0a0f" stroke="#fff" stroke-opacity="0.5" stroke-width="2.2" paint-order="stroke" stroke-linejoin="round" font-family="Liberation Sans, sans-serif">bc</text>
<text x="610.80" y="191.70" text-anchor="middle" font-size="21.6" font-weight="bold" fill="#2a5cb5" stroke="#fff" stroke-opacity="0.5" stroke-width="2.2" paint-order="stroke" stroke-linejoin="round" font-family="Liberation Sans, sans-serif">cd</text>
<text x="628.00" y="55.00" text-anchor="middle" font-size="21.6" font-weight="bold" fill="#dc4a6c" stroke="#fff" stroke-opacity="0.5" stroke-width="2.2" paint-order="stroke" stroke-linejoin="round" font-family="Liberation Sans, sans-serif">b</text>
<text x="672.10" y="163.90" text-anchor="middle" font-size="21.6" font-weight="bold" fill="#bb0a0f" stroke="#fff" stroke-opacity="0.5" stroke-width="2.2" paint-order="stroke" stroke-linejoin="round" font-family="Liberation Sans, sans-serif">c</text>
<text x="689.40" y="241.30" text-anchor="middle" font-size="21.6" font-weight="bold" fill="#2a5cb5" stroke="#fff" stroke-opacity="0.5" stroke-width="2.2" paint-order="stroke" stroke-linejoin="round" font-family="Liberation Sans, sans-serif">d</text>
<text x="734.80" y="348.30" text-anchor="middle" font-size="21.6" font-weight="bold" fill="#bb0a0f" stroke="#fff" stroke-opacity="0.5" stroke-width="2.2" paint-order="stroke" stroke-linejoin="round" font-family="Liberation Sans, sans-serif">a</text>
<text x="752.60" y="434.50" text-anchor="middle" font-size="21.6" font-weight="bold" fill="#2a5cb5" stroke="#fff" stroke-opacity="0.5" stroke-width="2.2" paint-order="stroke" stroke-linejoin="round" font-family="Liberation Sans, sans-serif">a</text>
<text x="797.70" y="347.80" text-anchor="middle" font-size="21.6" font-weight="bold" fill="#bb0a0f" stroke="#fff" stroke-opacity="0.5" stroke-width="2.2" paint-order="stroke" stroke-linejoin="round" font-family="Liberation Sans, sans-serif">a</text>
<text x="814.90" y="458.30" text-anchor="middle" font-size="21.6" font-weight="bold" fill="#2a5cb5" stroke="#fff" stroke-opacity="0.5" stroke-width="2.2" paint-order="stroke" stroke-linejoin="round" font-family="Liberation Sans, sans-serif">a</text>
<rect x="42.9" y="464.82" width="3.2" height="1.7" fill="#000"/><rect x="41.5" y="501.54" width="5.1" height="1.7" fill="#000"/><rect x="39.2" y="538.26" width="7.4" height="1.7" fill="#000"/>
<line x1="81.4" x2="81.4" y1="32.00" y2="637.70" stroke="#2a2a2a" stroke-width="1.25"/>
<line x1="77.8" x2="81" y1="59.60" y2="59.60" stroke="#333" stroke-width="1.1"/>
<text x="75.3" y="67.20" text-anchor="end" font-size="20.6" fill="#000" font-family="Liberation Sans, sans-serif">0.0</text>
<line x1="77.8" x2="81" y1="96.32" y2="96.32" stroke="#333" stroke-width="1.1"/>
<text x="75.3" y="103.92" text-anchor="end" font-size="20.6" fill="#000" font-family="Liberation Sans, sans-serif">−0.2</text>
<line x1="77.8" x2="81" y1="133.04" y2="133.04" stroke="#333" stroke-width="1.1"/>
<text x="75.3" y="140.64" text-anchor="end" font-size="20.6" fill="#000" font-family="Liberation Sans, sans-serif">−0.4</text>
<line x1="77.8" x2="81" y1="169.76" y2="169.76" stroke="#333" stroke-width="1.1"/>
<text x="75.3" y="177.36" text-anchor="end" font-size="20.6" fill="#000" font-family="Liberation Sans, sans-serif">−0.6</text>
<line x1="77.8" x2="81" y1="206.48" y2="206.48" stroke="#333" stroke-width="1.1"/>
<text x="75.3" y="214.08" text-anchor="end" font-size="20.6" fill="#000" font-family="Liberation Sans, sans-serif">−0.8</text>
<line x1="77.8" x2="81" y1="243.20" y2="243.20" stroke="#333" stroke-width="1.1"/>
<text x="75.3" y="250.80" text-anchor="end" font-size="20.6" fill="#000" font-family="Liberation Sans, sans-serif">−1.0</text>
<line x1="77.8" x2="81" y1="279.92" y2="279.92" stroke="#333" stroke-width="1.1"/>
<text x="75.3" y="287.52" text-anchor="end" font-size="20.6" fill="#000" font-family="Liberation Sans, sans-serif">−1.2</text>
<line x1="77.8" x2="81" y1="316.64" y2="316.64" stroke="#333" stroke-width="1.1"/>
<text x="75.3" y="324.24" text-anchor="end" font-size="20.6" fill="#000" font-family="Liberation Sans, sans-serif">−1.4</text>
<line x1="77.8" x2="81" y1="353.36" y2="353.36" stroke="#333" stroke-width="1.1"/>
<text x="75.3" y="360.96" text-anchor="end" font-size="20.6" fill="#000" font-family="Liberation Sans, sans-serif">−1.6</text>
<line x1="77.8" x2="81" y1="390.08" y2="390.08" stroke="#333" stroke-width="1.1"/>
<text x="75.3" y="397.68" text-anchor="end" font-size="20.6" fill="#000" font-family="Liberation Sans, sans-serif">−1.8</text>
<line x1="77.8" x2="81" y1="426.80" y2="426.80" stroke="#333" stroke-width="1.1"/>
<text x="75.3" y="434.40" text-anchor="end" font-size="20.6" fill="#000" font-family="Liberation Sans, sans-serif">2.0</text>
<line x1="77.8" x2="81" y1="463.52" y2="463.52" stroke="#333" stroke-width="1.1"/>
<text x="75.3" y="471.12" text-anchor="end" font-size="20.6" fill="#000" font-family="Liberation Sans, sans-serif">2.2</text>
<line x1="77.8" x2="81" y1="500.24" y2="500.24" stroke="#333" stroke-width="1.1"/>
<text x="75.3" y="507.84" text-anchor="end" font-size="20.6" fill="#000" font-family="Liberation Sans, sans-serif">2.4</text>
<line x1="77.8" x2="81" y1="536.96" y2="536.96" stroke="#333" stroke-width="1.1"/>
<text x="75.3" y="544.56" text-anchor="end" font-size="20.6" fill="#000" font-family="Liberation Sans, sans-serif">2.6</text>
<line x1="77.8" x2="81" y1="573.68" y2="573.68" stroke="#333" stroke-width="1.1"/>
<text x="75.3" y="581.28" text-anchor="end" font-size="20.6" fill="#000" font-family="Liberation Sans, sans-serif">−2.8</text>
<line x1="77.8" x2="81" y1="610.40" y2="610.40" stroke="#333" stroke-width="1.1"/>
<text x="75.3" y="618.00" text-anchor="end" font-size="20.6" fill="#000" font-family="Liberation Sans, sans-serif">−3.0</text>
<text transform="translate(26.30,338.30) rotate(-90)" text-anchor="middle" font-size="25.5" font-weight="bold" fill="#000" font-family="Liberation Sans, sans-serif"><tspan font-style="italic">Carsonella</tspan> titer/host cell (log10)</text>
<path d="M338.8,643.0 V662.3 H376.0 V650.5" fill="none" stroke="#e0201f" stroke-width="1.9"/>
<path d="M370.4,650.9 L376.0,643.1 L381.6,650.9 Z" fill="#e0201f" stroke="#e0201f" stroke-width="1.0" stroke-linejoin="round"/>
<path d="M628.5,643.3 V661.9 H745.0 V650.3" fill="none" stroke="#e0201f" stroke-width="1.9"/>
<path d="M739.4,650.7 L745.0,642.9 L750.6,650.7 Z" fill="#e0201f" stroke="#e0201f" stroke-width="1.0" stroke-linejoin="round"/>
<circle cx="231.5" cy="694.2" r="11.6" fill="#f3b4c3"/>
<text x="259.4" y="700.5" font-size="27.6" fill="#000" font-family="Liberation Sans, sans-serif">immature</text>
<circle cx="429.2" cy="694.2" r="11.6" fill="#e32227"/>
<text x="458.2" y="700.5" font-size="27.6" fill="#000" font-family="Liberation Sans, sans-serif">female</text>
<circle cx="590" cy="694.2" r="11.6" fill="#6b8fcf"/>
<text x="615.4" y="700.5" font-size="27.6" fill="#000" font-family="Liberation Sans, sans-serif">male</text>
<text x="-0.6" y="757.9" font-size="63" font-weight="bold" fill="#000" font-family="Liberation Sans, sans-serif">b</text>
<rect x="81.00" y="734.30" width="56.0" height="19.20" fill="#fff" stroke="#555" stroke-width="1.1"/>
<text x="109.00" y="749.70" text-anchor="middle" font-size="18" font-weight="bold" fill="#000" font-family="Liberation Sans, sans-serif">Jan.</text>
<rect x="81.00" y="753.50" width="56.0" height="605.40" fill="#d9d1e8"/>
<line x1="82.55" x2="82.55" y1="753.50" y2="1358.90" stroke="#ece8fa" stroke-width="1.1"/>
<line x1="135.45" x2="135.45" y1="753.50" y2="1358.90" stroke="#ece8fa" stroke-width="1.1"/>
<rect x="143.64" y="734.30" width="56.0" height="19.20" fill="#fff" stroke="#555" stroke-width="1.1"/>
<text x="171.64" y="749.70" text-anchor="middle" font-size="18" font-weight="bold" fill="#000" font-family="Liberation Sans, sans-serif">Feb.</text>
<rect x="143.64" y="753.50" width="56.0" height="605.40" fill="#d9d1e8"/>
<line x1="145.19" x2="145.19" y1="753.50" y2="1358.90" stroke="#ece8fa" stroke-width="1.1"/>
<line x1="198.09" x2="198.09" y1="753.50" y2="1358.90" stroke="#ece8fa" stroke-width="1.1"/>
<rect x="206.28" y="734.30" width="56.0" height="19.20" fill="#fff" stroke="#555" stroke-width="1.1"/>
<text x="234.28" y="749.70" text-anchor="middle" font-size="18" font-weight="bold" fill="#000" font-family="Liberation Sans, sans-serif">March</text>
<rect x="206.28" y="753.50" width="56.0" height="605.40" fill="#d9d1e8"/>
<line x1="207.83" x2="207.83" y1="753.50" y2="1358.90" stroke="#ece8fa" stroke-width="1.1"/>
<line x1="260.73" x2="260.73" y1="753.50" y2="1358.90" stroke="#ece8fa" stroke-width="1.1"/>
<rect x="268.92" y="734.30" width="56.0" height="19.20" fill="#fff" stroke="#555" stroke-width="1.1"/>
<text x="296.92" y="749.70" text-anchor="middle" font-size="18" font-weight="bold" fill="#000" font-family="Liberation Sans, sans-serif">April</text>
<rect x="268.92" y="753.50" width="56.0" height="605.40" fill="#d9d1e8"/>
<line x1="270.47" x2="270.47" y1="753.50" y2="1358.90" stroke="#ece8fa" stroke-width="1.1"/>
<line x1="323.37" x2="323.37" y1="753.50" y2="1358.90" stroke="#ece8fa" stroke-width="1.1"/>
<rect x="331.56" y="734.30" width="56.0" height="19.20" fill="#fff" stroke="#555" stroke-width="1.1"/>
<text x="359.56" y="749.70" text-anchor="middle" font-size="18" font-weight="bold" fill="#000" font-family="Liberation Sans, sans-serif">May</text>
<rect x="331.56" y="753.50" width="56.0" height="605.40" fill="#fff"/>
<line x1="333.36" x2="385.76" y1="781.18" y2="781.18" stroke="#e4e4e4" stroke-width="1"/>
<line x1="333.36" x2="385.76" y1="831.20" y2="831.20" stroke="#e4e4e4" stroke-width="1"/>
<line x1="333.36" x2="385.76" y1="881.22" y2="881.22" stroke="#e4e4e4" stroke-width="1"/>
<line x1="333.36" x2="385.76" y1="931.24" y2="931.24" stroke="#e4e4e4" stroke-width="1"/>
<line x1="333.36" x2="385.76" y1="981.26" y2="981.26" stroke="#e4e4e4" stroke-width="1"/>
<line x1="333.36" x2="385.76" y1="1031.28" y2="1031.28" stroke="#e4e4e4" stroke-width="1"/>
<line x1="333.36" x2="385.76" y1="1081.30" y2="1081.30" stroke="#e4e4e4" stroke-width="1"/>
<line x1="333.36" x2="385.76" y1="1131.32" y2="1131.32" stroke="#e4e4e4" stroke-width="1"/>
<line x1="333.36" x2="385.76" y1="1181.34" y2="1181.34" stroke="#e4e4e4" stroke-width="1"/>
<line x1="333.36" x2="385.76" y1="1231.36" y2="1231.36" stroke="#e4e4e4" stroke-width="1"/>
<line x1="333.36" x2="385.76" y1="1281.38" y2="1281.38" stroke="#e4e4e4" stroke-width="1"/>
<line x1="333.36" x2="385.76" y1="1331.40" y2="1331.40" stroke="#e4e4e4" stroke-width="1"/>
<rect x="394.20" y="734.30" width="56.0" height="19.20" fill="#fff" stroke="#555" stroke-width="1.1"/>
<text x="422.20" y="749.70" text-anchor="middle" font-size="18" font-weight="bold" fill="#000" font-family="Liberation Sans, sans-serif">June</text>
<rect x="394.20" y="753.50" width="56.0" height="605.40" fill="#fff"/>
<line x1="396.00" x2="448.40" y1="781.18" y2="781.18" stroke="#e4e4e4" stroke-width="1"/>
<line x1="396.00" x2="448.40" y1="831.20" y2="831.20" stroke="#e4e4e4" stroke-width="1"/>
<line x1="396.00" x2="448.40" y1="881.22" y2="881.22" stroke="#e4e4e4" stroke-width="1"/>
<line x1="396.00" x2="448.40" y1="931.24" y2="931.24" stroke="#e4e4e4" stroke-width="1"/>
<line x1="396.00" x2="448.40" y1="981.26" y2="981.26" stroke="#e4e4e4" stroke-width="1"/>
<line x1="396.00" x2="448.40" y1="1031.28" y2="1031.28" stroke="#e4e4e4" stroke-width="1"/>
<line x1="396.00" x2="448.40" y1="1081.30" y2="1081.30" stroke="#e4e4e4" stroke-width="1"/>
<line x1="396.00" x2="448.40" y1="1131.32" y2="1131.32" stroke="#e4e4e4" stroke-width="1"/>
<line x1="396.00" x2="448.40" y1="1181.34" y2="1181.34" stroke="#e4e4e4" stroke-width="1"/>
<line x1="396.00" x2="448.40" y1="1231.36" y2="1231.36" stroke="#e4e4e4" stroke-width="1"/>
<line x1="396.00" x2="448.40" y1="1281.38" y2="1281.38" stroke="#e4e4e4" stroke-width="1"/>
<line x1="396.00" x2="448.40" y1="1331.40" y2="1331.40" stroke="#e4e4e4" stroke-width="1"/>
<rect x="456.84" y="734.30" width="56.0" height="19.20" fill="#fff" stroke="#555" stroke-width="1.1"/>
<text x="484.84" y="749.70" text-anchor="middle" font-size="18" font-weight="bold" fill="#000" font-family="Liberation Sans, sans-serif">July</text>
<rect x="456.84" y="753.50" width="56.0" height="605.40" fill="#fff"/>
<line x1="458.64" x2="511.04" y1="781.18" y2="781.18" stroke="#e4e4e4" stroke-width="1"/>
<line x1="458.64" x2="511.04" y1="831.20" y2="831.20" stroke="#e4e4e4" stroke-width="1"/>
<line x1="458.64" x2="511.04" y1="881.22" y2="881.22" stroke="#e4e4e4" stroke-width="1"/>
<line x1="458.64" x2="511.04" y1="931.24" y2="931.24" stroke="#e4e4e4" stroke-width="1"/>
<line x1="458.64" x2="511.04" y1="981.26" y2="981.26" stroke="#e4e4e4" stroke-width="1"/>
<line x1="458.64" x2="511.04" y1="1031.28" y2="1031.28" stroke="#e4e4e4" stroke-width="1"/>
<line x1="458.64" x2="511.04" y1="1081.30" y2="1081.30" stroke="#e4e4e4" stroke-width="1"/>
<line x1="458.64" x2="511.04" y1="1131.32" y2="1131.32" stroke="#e4e4e4" stroke-width="1"/>
<line x1="458.64" x2="511.04" y1="1181.34" y2="1181.34" stroke="#e4e4e4" stroke-width="1"/>
<line x1="458.64" x2="511.04" y1="1231.36" y2="1231.36" stroke="#e4e4e4" stroke-width="1"/>
<line x1="458.64" x2="511.04" y1="1281.38" y2="1281.38" stroke="#e4e4e4" stroke-width="1"/>
<line x1="458.64" x2="511.04" y1="1331.40" y2="1331.40" stroke="#e4e4e4" stroke-width="1"/>
<rect x="519.48" y="734.30" width="56.0" height="19.20" fill="#fff" stroke="#555" stroke-width="1.1"/>
<text x="547.48" y="749.70" text-anchor="middle" font-size="18" font-weight="bold" fill="#000" font-family="Liberation Sans, sans-serif">Aug.</text>
<rect x="519.48" y="753.50" width="56.0" height="605.40" fill="#fff"/>
<line x1="521.28" x2="573.68" y1="781.18" y2="781.18" stroke="#e4e4e4" stroke-width="1"/>
<line x1="521.28" x2="573.68" y1="831.20" y2="831.20" stroke="#e4e4e4" stroke-width="1"/>
<line x1="521.28" x2="573.68" y1="881.22" y2="881.22" stroke="#e4e4e4" stroke-width="1"/>
<line x1="521.28" x2="573.68" y1="931.24" y2="931.24" stroke="#e4e4e4" stroke-width="1"/>
<line x1="521.28" x2="573.68" y1="981.26" y2="981.26" stroke="#e4e4e4" stroke-width="1"/>
<line x1="521.28" x2="573.68" y1="1031.28" y2="1031.28" stroke="#e4e4e4" stroke-width="1"/>
<line x1="521.28" x2="573.68" y1="1081.30" y2="1081.30" stroke="#e4e4e4" stroke-width="1"/>
<line x1="521.28" x2="573.68" y1="1131.32" y2="1131.32" stroke="#e4e4e4" stroke-width="1"/>
<line x1="521.28" x2="573.68" y1="1181.34" y2="1181.34" stroke="#e4e4e4" stroke-width="1"/>
<line x1="521.28" x2="573.68" y1="1231.36" y2="1231.36" stroke="#e4e4e4" stroke-width="1"/>
<line x1="521.28" x2="573.68" y1="1281.38" y2="1281.38" stroke="#e4e4e4" stroke-width="1"/>
<line x1="521.28" x2="573.68" y1="1331.40" y2="1331.40" stroke="#e4e4e4" stroke-width="1"/>
<rect x="582.12" y="734.30" width="56.0" height="19.20" fill="#fff" stroke="#555" stroke-width="1.1"/>
<text x="610.12" y="749.70" text-anchor="middle" font-size="18" font-weight="bold" fill="#000" font-family="Liberation Sans, sans-serif">Sept.</text>
<rect x="582.12" y="753.50" width="56.0" height="605.40" fill="#fff"/>
<line x1="583.92" x2="618.60" y1="781.18" y2="781.18" stroke="#e4e4e4" stroke-width="1"/>
<line x1="583.92" x2="618.60" y1="831.20" y2="831.20" stroke="#e4e4e4" stroke-width="1"/>
<line x1="583.92" x2="618.60" y1="881.22" y2="881.22" stroke="#e4e4e4" stroke-width="1"/>
<line x1="583.92" x2="618.60" y1="931.24" y2="931.24" stroke="#e4e4e4" stroke-width="1"/>
<line x1="583.92" x2="618.60" y1="981.26" y2="981.26" stroke="#e4e4e4" stroke-width="1"/>
<line x1="583.92" x2="618.60" y1="1031.28" y2="1031.28" stroke="#e4e4e4" stroke-width="1"/>
<line x1="583.92" x2="618.60" y1="1081.30" y2="1081.30" stroke="#e4e4e4" stroke-width="1"/>
<line x1="583.92" x2="618.60" y1="1131.32" y2="1131.32" stroke="#e4e4e4" stroke-width="1"/>
<line x1="583.92" x2="618.60" y1="1181.34" y2="1181.34" stroke="#e4e4e4" stroke-width="1"/>
<line x1="583.92" x2="618.60" y1="1231.36" y2="1231.36" stroke="#e4e4e4" stroke-width="1"/>
<line x1="583.92" x2="618.60" y1="1281.38" y2="1281.38" stroke="#e4e4e4" stroke-width="1"/>
<line x1="583.92" x2="618.60" y1="1331.40" y2="1331.40" stroke="#e4e4e4" stroke-width="1"/>
<rect x="618.6" y="753.50" width="18.32" height="605.40" fill="#d9d1e8"/>
<rect x="644.76" y="734.30" width="56.0" height="19.20" fill="#fff" stroke="#555" stroke-width="1.1"/>
<text x="672.76" y="749.70" text-anchor="middle" font-size="18" font-weight="bold" fill="#000" font-family="Liberation Sans, sans-serif">Oct.</text>
<rect x="644.76" y="753.50" width="56.0" height="605.40" fill="#fff"/>
<line x1="646.56" x2="698.96" y1="781.18" y2="781.18" stroke="#e4e4e4" stroke-width="1"/>
<line x1="646.56" x2="698.96" y1="831.20" y2="831.20" stroke="#e4e4e4" stroke-width="1"/>
<line x1="646.56" x2="698.96" y1="881.22" y2="881.22" stroke="#e4e4e4" stroke-width="1"/>
<line x1="646.56" x2="698.96" y1="931.24" y2="931.24" stroke="#e4e4e4" stroke-width="1"/>
<line x1="646.56" x2="698.96" y1="981.26" y2="981.26" stroke="#e4e4e4" stroke-width="1"/>
<line x1="646.56" x2="698.96" y1="1031.28" y2="1031.28" stroke="#e4e4e4" stroke-width="1"/>
<line x1="646.56" x2="698.96" y1="1081.30" y2="1081.30" stroke="#e4e4e4" stroke-width="1"/>
<line x1="646.56" x2="698.96" y1="1131.32" y2="1131.32" stroke="#e4e4e4" stroke-width="1"/>
<line x1="646.56" x2="698.96" y1="1181.34" y2="1181.34" stroke="#e4e4e4" stroke-width="1"/>
<line x1="646.56" x2="698.96" y1="1231.36" y2="1231.36" stroke="#e4e4e4" stroke-width="1"/>
<line x1="646.56" x2="698.96" y1="1281.38" y2="1281.38" stroke="#e4e4e4" stroke-width="1"/>
<line x1="646.56" x2="698.96" y1="1331.40" y2="1331.40" stroke="#e4e4e4" stroke-width="1"/>
<rect x="707.40" y="734.30" width="56.0" height="19.20" fill="#fff" stroke="#555" stroke-width="1.1"/>
<text x="735.40" y="749.70" text-anchor="middle" font-size="18" font-weight="bold" fill="#000" font-family="Liberation Sans, sans-serif">Nov.</text>
<rect x="707.40" y="753.50" width="56.0" height="605.40" fill="#d9d1e8"/>
<line x1="708.95" x2="708.95" y1="753.50" y2="1358.90" stroke="#ece8fa" stroke-width="1.1"/>
<line x1="761.85" x2="761.85" y1="753.50" y2="1358.90" stroke="#ece8fa" stroke-width="1.1"/>
<rect x="770.04" y="734.30" width="56.0" height="19.20" fill="#fff" stroke="#555" stroke-width="1.1"/>
<text x="798.04" y="749.70" text-anchor="middle" font-size="18" font-weight="bold" fill="#000" font-family="Liberation Sans, sans-serif">Dec.</text>
<rect x="770.04" y="753.50" width="56.0" height="605.40" fill="#d9d1e8"/>
<line x1="771.59" x2="771.59" y1="753.50" y2="1358.90" stroke="#ece8fa" stroke-width="1.1"/>
<line x1="824.49" x2="824.49" y1="753.50" y2="1358.90" stroke="#ece8fa" stroke-width="1.1"/>
<rect x="81.00" y="753.50" width="56.0" height="605.40" fill="none" stroke="#7a7884" stroke-width="1.5"/>
<line x1="80.70" x2="137.30" y1="1358.90" y2="1358.90" stroke="#333" stroke-width="1.6"/>
<line x1="80.70" x2="137.30" y1="753.50" y2="753.50" stroke="#333" stroke-width="1.6"/>
<rect x="143.64" y="753.50" width="56.0" height="605.40" fill="none" stroke="#7a7884" stroke-width="1.5"/>
<line x1="143.34" x2="199.94" y1="1358.90" y2="1358.90" stroke="#333" stroke-width="1.6"/>
<line x1="143.34" x2="199.94" y1="753.50" y2="753.50" stroke="#333" stroke-width="1.6"/>
<rect x="206.28" y="753.50" width="56.0" height="605.40" fill="none" stroke="#7a7884" stroke-width="1.5"/>
<line x1="205.98" x2="262.58" y1="1358.90" y2="1358.90" stroke="#333" stroke-width="1.6"/>
<line x1="205.98" x2="262.58" y1="753.50" y2="753.50" stroke="#333" stroke-width="1.6"/>
<rect x="268.92" y="753.50" width="56.0" height="605.40" fill="none" stroke="#7a7884" stroke-width="1.5"/>
<line x1="268.62" x2="325.22" y1="1358.90" y2="1358.90" stroke="#333" stroke-width="1.6"/>
<line x1="268.62" x2="325.22" y1="753.50" y2="753.50" stroke="#333" stroke-width="1.6"/>
<rect x="331.56" y="753.50" width="56.0" height="605.40" fill="none" stroke="#7a7884" stroke-width="1.5"/>
<line x1="331.26" x2="387.86" y1="1358.90" y2="1358.90" stroke="#333" stroke-width="1.6"/>
<line x1="331.26" x2="387.86" y1="753.50" y2="753.50" stroke="#333" stroke-width="1.6"/>
<rect x="394.20" y="753.50" width="56.0" height="605.40" fill="none" stroke="#7a7884" stroke-width="1.5"/>
<line x1="393.90" x2="450.50" y1="1358.90" y2="1358.90" stroke="#333" stroke-width="1.6"/>
<line x1="393.90" x2="450.50" y1="753.50" y2="753.50" stroke="#333" stroke-width="1.6"/>
<rect x="456.84" y="753.50" width="56.0" height="605.40" fill="none" stroke="#7a7884" stroke-width="1.5"/>
<line x1="456.54" x2="513.14" y1="1358.90" y2="1358.90" stroke="#333" stroke-width="1.6"/>
<line x1="456.54" x2="513.14" y1="753.50" y2="753.50" stroke="#333" stroke-width="1.6"/>
<rect x="519.48" y="753.50" width="56.0" height="605.40" fill="none" stroke="#7a7884" stroke-width="1.5"/>
<line x1="519.18" x2="575.78" y1="1358.90" y2="1358.90" stroke="#333" stroke-width="1.6"/>
<line x1="519.18" x2="575.78" y1="753.50" y2="753.50" stroke="#333" stroke-width="1.6"/>
<rect x="582.12" y="753.50" width="56.0" height="605.40" fill="none" stroke="#7a7884" stroke-width="1.5"/>
<line x1="581.82" x2="638.42" y1="1358.90" y2="1358.90" stroke="#333" stroke-width="1.6"/>
<line x1="581.82" x2="638.42" y1="753.50" y2="753.50" stroke="#333" stroke-width="1.6"/>
<rect x="644.76" y="753.50" width="56.0" height="605.40" fill="none" stroke="#7a7884" stroke-width="1.5"/>
<line x1="644.46" x2="701.06" y1="1358.90" y2="1358.90" stroke="#333" stroke-width="1.6"/>
<line x1="644.46" x2="701.06" y1="753.50" y2="753.50" stroke="#333" stroke-width="1.6"/>
<rect x="707.40" y="753.50" width="56.0" height="605.40" fill="none" stroke="#7a7884" stroke-width="1.5"/>
<line x1="707.10" x2="763.70" y1="1358.90" y2="1358.90" stroke="#333" stroke-width="1.6"/>
<line x1="707.10" x2="763.70" y1="753.50" y2="753.50" stroke="#333" stroke-width="1.6"/>
<rect x="770.04" y="753.50" width="56.0" height="605.40" fill="none" stroke="#7a7884" stroke-width="1.5"/>
<line x1="769.74" x2="826.34" y1="1358.90" y2="1358.90" stroke="#333" stroke-width="1.6"/>
<line x1="769.74" x2="826.34" y1="753.50" y2="753.50" stroke="#333" stroke-width="1.6"/>
<line x1="108.90" x2="108.90" y1="869.40" y2="870.60" stroke="#fff" stroke-opacity="0.4" stroke-width="3.6"/>
<line x1="108.90" x2="108.90" y1="896.70" y2="909.80" stroke="#fff" stroke-opacity="0.4" stroke-width="3.6"/>
<rect x="102.70" y="870.60" width="12.40" height="26.10" fill="none" stroke="#fff" stroke-opacity="0.4" stroke-width="3.8"/>
<line x1="126.60" x2="126.60" y1="1015.00" y2="1042.40" stroke="#fff" stroke-opacity="0.4" stroke-width="3.6"/>
<line x1="126.60" x2="126.60" y1="1064.50" y2="1091.30" stroke="#fff" stroke-opacity="0.4" stroke-width="3.6"/>
<rect x="120.40" y="1042.40" width="12.40" height="22.10" fill="none" stroke="#fff" stroke-opacity="0.4" stroke-width="3.8"/>
<line x1="171.54" x2="171.54" y1="804.90" y2="854.70" stroke="#fff" stroke-opacity="0.4" stroke-width="3.6"/>
<line x1="171.54" x2="171.54" y1="912.70" y2="962.70" stroke="#fff" stroke-opacity="0.4" stroke-width="3.6"/>
<rect x="165.34" y="854.70" width="12.40" height="58.00" fill="none" stroke="#fff" stroke-opacity="0.4" stroke-width="3.8"/>
<rect x="183.04" y="1045.30" width="12.40" height="28.10" fill="none" stroke="#fff" stroke-opacity="0.4" stroke-width="3.8"/>
<rect x="227.98" y="992.30" width="12.40" height="32.40" fill="none" stroke="#fff" stroke-opacity="0.4" stroke-width="3.8"/>
<rect x="245.68" y="1195.60" width="12.40" height="22.80" fill="none" stroke="#fff" stroke-opacity="0.4" stroke-width="3.8"/>
<line x1="296.82" x2="296.82" y1="964.10" y2="1021.40" stroke="#fff" stroke-opacity="0.4" stroke-width="3.6"/>
<line x1="296.82" x2="296.82" y1="1099.30" y2="1120.00" stroke="#fff" stroke-opacity="0.4" stroke-width="3.6"/>
<rect x="290.62" y="1021.40" width="12.40" height="77.90" fill="none" stroke="#fff" stroke-opacity="0.4" stroke-width="3.8"/>
<line x1="314.52" x2="314.52" y1="1210.30" y2="1213.70" stroke="#fff" stroke-opacity="0.4" stroke-width="3.6"/>
<line x1="314.52" x2="314.52" y1="1299.50" y2="1313.70" stroke="#fff" stroke-opacity="0.4" stroke-width="3.6"/>
<rect x="308.32" y="1213.70" width="12.40" height="85.80" fill="none" stroke="#fff" stroke-opacity="0.4" stroke-width="3.8"/>
<line x1="341.76" x2="341.76" y1="849.40" y2="872.80" stroke="#fff" stroke-opacity="0.4" stroke-width="3.6"/>
<line x1="341.76" x2="341.76" y1="932.20" y2="952.20" stroke="#fff" stroke-opacity="0.4" stroke-width="3.6"/>
<rect x="335.56" y="872.80" width="12.40" height="59.40" fill="none" stroke="#fff" stroke-opacity="0.4" stroke-width="3.8"/>
<line x1="359.46" x2="359.46" y1="1114.30" y2="1129.70" stroke="#fff" stroke-opacity="0.4" stroke-width="3.6"/>
<line x1="359.46" x2="359.46" y1="1144.00" y2="1145.50" stroke="#fff" stroke-opacity="0.4" stroke-width="3.6"/>
<rect x="353.26" y="1129.70" width="12.40" height="14.30" fill="none" stroke="#fff" stroke-opacity="0.4" stroke-width="3.8"/>
<line x1="377.16" x2="377.16" y1="1112.40" y2="1158.60" stroke="#fff" stroke-opacity="0.4" stroke-width="3.6"/>
<line x1="377.16" x2="377.16" y1="1192.50" y2="1209.50" stroke="#fff" stroke-opacity="0.4" stroke-width="3.6"/>
<rect x="370.96" y="1158.60" width="12.40" height="33.90" fill="none" stroke="#fff" stroke-opacity="0.4" stroke-width="3.8"/>
<line x1="404.40" x2="404.40" y1="789.10" y2="804.40" stroke="#fff" stroke-opacity="0.4" stroke-width="3.6"/>
<line x1="404.40" x2="404.40" y1="859.20" y2="898.30" stroke="#fff" stroke-opacity="0.4" stroke-width="3.6"/>
<rect x="398.20" y="804.40" width="12.40" height="54.80" fill="none" stroke="#fff" stroke-opacity="0.4" stroke-width="3.8"/>
<line x1="422.10" x2="422.10" y1="1031.20" y2="1039.40" stroke="#fff" stroke-opacity="0.4" stroke-width="3.6"/>
<line x1="422.10" x2="422.10" y1="1071.50" y2="1091.50" stroke="#fff" stroke-opacity="0.4" stroke-width="3.6"/>
<rect x="415.90" y="1039.40" width="12.40" height="32.10" fill="none" stroke="#fff" stroke-opacity="0.4" stroke-width="3.8"/>
<line x1="439.80" x2="439.80" y1="1122.30" y2="1128.10" stroke="#fff" stroke-opacity="0.4" stroke-width="3.6"/>
<line x1="439.80" x2="439.80" y1="1170.40" y2="1193.90" stroke="#fff" stroke-opacity="0.4" stroke-width="3.6"/>
<rect x="433.60" y="1128.10" width="12.40" height="42.30" fill="none" stroke="#fff" stroke-opacity="0.4" stroke-width="3.8"/>
<line x1="467.04" x2="467.04" y1="870.10" y2="871.80" stroke="#fff" stroke-opacity="0.4" stroke-width="3.6"/>
<line x1="467.04" x2="467.04" y1="882.10" y2="889.80" stroke="#fff" stroke-opacity="0.4" stroke-width="3.6"/>
<rect x="460.84" y="871.80" width="12.40" height="10.30" fill="none" stroke="#fff" stroke-opacity="0.4" stroke-width="3.8"/>
<line x1="484.74" x2="484.74" y1="872.10" y2="879.10" stroke="#fff" stroke-opacity="0.4" stroke-width="3.6"/>
<line x1="484.74" x2="484.74" y1="910.30" y2="914.70" stroke="#fff" stroke-opacity="0.4" stroke-width="3.6"/>
<rect x="478.54" y="879.10" width="12.40" height="31.20" fill="none" stroke="#fff" stroke-opacity="0.4" stroke-width="3.8"/>
<line x1="502.44" x2="502.44" y1="1058.20" y2="1070.70" stroke="#fff" stroke-opacity="0.4" stroke-width="3.6"/>
<line x1="502.44" x2="502.44" y1="1119.20" y2="1131.20" stroke="#fff" stroke-opacity="0.4" stroke-width="3.6"/>
<rect x="496.24" y="1070.70" width="12.40" height="48.50" fill="none" stroke="#fff" stroke-opacity="0.4" stroke-width="3.8"/>
<line x1="529.68" x2="529.68" y1="818.70" y2="854.60" stroke="#fff" stroke-opacity="0.4" stroke-width="3.6"/>
<rect x="523.48" y="854.60" width="12.40" height="26.90" fill="none" stroke="#fff" stroke-opacity="0.4" stroke-width="3.8"/>
<line x1="547.38" x2="547.38" y1="872.70" y2="873.70" stroke="#fff" stroke-opacity="0.4" stroke-width="3.6"/>
<rect x="541.18" y="873.70" width="12.40" height="13.70" fill="none" stroke="#fff" stroke-opacity="0.4" stroke-width="3.8"/>
<line x1="565.08" x2="565.08" y1="1038.70" y2="1049.30" stroke="#fff" stroke-opacity="0.4" stroke-width="3.6"/>
<line x1="565.08" x2="565.08" y1="1091.60" y2="1101.10" stroke="#fff" stroke-opacity="0.4" stroke-width="3.6"/>
<rect x="558.88" y="1049.30" width="12.40" height="42.30" fill="none" stroke="#fff" stroke-opacity="0.4" stroke-width="3.8"/>
<line x1="592.32" x2="592.32" y1="837.20" y2="889.80" stroke="#fff" stroke-opacity="0.4" stroke-width="3.6"/>
<line x1="592.32" x2="592.32" y1="958.30" y2="1006.70" stroke="#fff" stroke-opacity="0.4" stroke-width="3.6"/>
<rect x="586.12" y="889.80" width="12.40" height="68.50" fill="none" stroke="#fff" stroke-opacity="0.4" stroke-width="3.8"/>
<line x1="610.02" x2="610.02" y1="1013.90" y2="1025.00" stroke="#fff" stroke-opacity="0.4" stroke-width="3.6"/>
<line x1="610.02" x2="610.02" y1="1062.60" y2="1082.50" stroke="#fff" stroke-opacity="0.4" stroke-width="3.6"/>
<rect x="603.82" y="1025.00" width="12.40" height="37.60" fill="none" stroke="#fff" stroke-opacity="0.4" stroke-width="3.8"/>
<line x1="627.72" x2="627.72" y1="802.20" y2="845.00" stroke="#fff" stroke-opacity="0.4" stroke-width="3.6"/>
<rect x="621.52" y="845.00" width="12.40" height="83.90" fill="none" stroke="#fff" stroke-opacity="0.4" stroke-width="3.8"/>
<line x1="672.66" x2="672.66" y1="826.30" y2="834.00" stroke="#fff" stroke-opacity="0.4" stroke-width="3.6"/>
<line x1="672.66" x2="672.66" y1="891.50" y2="958.00" stroke="#fff" stroke-opacity="0.4" stroke-width="3.6"/>
<rect x="666.46" y="834.00" width="12.40" height="57.50" fill="none" stroke="#fff" stroke-opacity="0.4" stroke-width="3.8"/>
<line x1="690.36" x2="690.36" y1="951.10" y2="973.80" stroke="#fff" stroke-opacity="0.4" stroke-width="3.6"/>
<line x1="690.36" x2="690.36" y1="1014.20" y2="1075.20" stroke="#fff" stroke-opacity="0.4" stroke-width="3.6"/>
<rect x="684.16" y="973.80" width="12.40" height="40.40" fill="none" stroke="#fff" stroke-opacity="0.4" stroke-width="3.8"/>
<line x1="735.30" x2="735.30" y1="960.10" y2="963.30" stroke="#fff" stroke-opacity="0.4" stroke-width="3.6"/>
<line x1="735.30" x2="735.30" y1="1033.60" y2="1054.40" stroke="#fff" stroke-opacity="0.4" stroke-width="3.6"/>
<rect x="729.10" y="963.30" width="12.40" height="70.30" fill="none" stroke="#fff" stroke-opacity="0.4" stroke-width="3.8"/>
<line x1="753.00" x2="753.00" y1="1077.60" y2="1105.00" stroke="#fff" stroke-opacity="0.4" stroke-width="3.6"/>
<line x1="753.00" x2="753.00" y1="1197.90" y2="1305.70" stroke="#fff" stroke-opacity="0.4" stroke-width="3.6"/>
<rect x="746.80" y="1105.00" width="12.40" height="92.90" fill="none" stroke="#fff" stroke-opacity="0.4" stroke-width="3.8"/>
<line x1="797.94" x2="797.94" y1="796.50" y2="844.10" stroke="#fff" stroke-opacity="0.4" stroke-width="3.6"/>
<line x1="797.94" x2="797.94" y1="890.00" y2="914.30" stroke="#fff" stroke-opacity="0.4" stroke-width="3.6"/>
<rect x="791.74" y="844.10" width="12.40" height="45.90" fill="none" stroke="#fff" stroke-opacity="0.4" stroke-width="3.8"/>
<line x1="815.64" x2="815.64" y1="1070.40" y2="1095.50" stroke="#fff" stroke-opacity="0.4" stroke-width="3.6"/>
<line x1="815.64" x2="815.64" y1="1125.60" y2="1130.30" stroke="#fff" stroke-opacity="0.4" stroke-width="3.6"/>
<rect x="809.44" y="1095.50" width="12.40" height="30.10" fill="none" stroke="#fff" stroke-opacity="0.4" stroke-width="3.8"/>
<line x1="108.90" x2="108.90" y1="869.40" y2="870.60" stroke="#262626" stroke-width="1.2"/>
<line x1="108.90" x2="108.90" y1="896.70" y2="909.80" stroke="#262626" stroke-width="1.2"/>
<rect x="102.70" y="870.60" width="12.40" height="26.10" fill="#e32227" stroke="#151515" stroke-width="1.3"/>
<line x1="102.70" x2="115.10" y1="886.70" y2="886.70" stroke="#222" stroke-width="2.0"/>
<line x1="126.60" x2="126.60" y1="1015.00" y2="1042.40" stroke="#262626" stroke-width="1.2"/>
<line x1="126.60" x2="126.60" y1="1064.50" y2="1091.30" stroke="#262626" stroke-width="1.2"/>
<rect x="120.40" y="1042.40" width="12.40" height="22.10" fill="#6b8fcf" stroke="#151515" stroke-width="1.3"/>
<line x1="120.40" x2="132.80" y1="1051.00" y2="1051.00" stroke="#222" stroke-width="2.0"/>
<line x1="171.54" x2="171.54" y1="804.90" y2="854.70" stroke="#262626" stroke-width="1.2"/>
<line x1="171.54" x2="171.54" y1="912.70" y2="962.70" stroke="#262626" stroke-width="1.2"/>
<rect x="165.34" y="854.70" width="12.40" height="58.00" fill="#e32227" stroke="#151515" stroke-width="1.3"/>
<line x1="165.34" x2="177.74" y1="872.50" y2="872.50" stroke="#222" stroke-width="2.0"/>
<rect x="183.04" y="1045.30" width="12.40" height="28.10" fill="#6b8fcf" stroke="#151515" stroke-width="1.3"/>
<line x1="183.04" x2="195.44" y1="1045.80" y2="1045.80" stroke="#222" stroke-width="2.0"/>
<rect x="227.98" y="992.30" width="12.40" height="32.40" fill="#e32227" stroke="#151515" stroke-width="1.3"/>
<line x1="227.98" x2="240.38" y1="1020.60" y2="1020.60" stroke="#222" stroke-width="2.0"/>
<rect x="245.68" y="1195.60" width="12.40" height="22.80" fill="#6b8fcf" stroke="#151515" stroke-width="1.3"/>
<line x1="245.68" x2="258.08" y1="1196.60" y2="1196.60" stroke="#222" stroke-width="2.0"/>
<line x1="296.82" x2="296.82" y1="964.10" y2="1021.40" stroke="#262626" stroke-width="1.2"/>
<line x1="296.82" x2="296.82" y1="1099.30" y2="1120.00" stroke="#262626" stroke-width="1.2"/>
<rect x="290.62" y="1021.40" width="12.40" height="77.90" fill="#e32227" stroke="#151515" stroke-width="1.3"/>
<line x1="290.62" x2="303.02" y1="1022.60" y2="1022.60" stroke="#222" stroke-width="2.0"/>
<line x1="314.52" x2="314.52" y1="1210.30" y2="1213.70" stroke="#262626" stroke-width="1.2"/>
<line x1="314.52" x2="314.52" y1="1299.50" y2="1313.70" stroke="#262626" stroke-width="1.2"/>
<rect x="308.32" y="1213.70" width="12.40" height="85.80" fill="#6b8fcf" stroke="#151515" stroke-width="1.3"/>
<line x1="308.32" x2="320.72" y1="1254.80" y2="1254.80" stroke="#222" stroke-width="2.0"/>
<line x1="341.76" x2="341.76" y1="849.40" y2="872.80" stroke="#262626" stroke-width="1.2"/>
<line x1="341.76" x2="341.76" y1="932.20" y2="952.20" stroke="#262626" stroke-width="1.2"/>
<rect x="335.56" y="872.80" width="12.40" height="59.40" fill="#f3b4c3" stroke="#151515" stroke-width="1.3"/>
<line x1="335.56" x2="347.96" y1="895.60" y2="895.60" stroke="#222" stroke-width="2.0"/>
<line x1="359.46" x2="359.46" y1="1114.30" y2="1129.70" stroke="#262626" stroke-width="1.2"/>
<line x1="359.46" x2="359.46" y1="1144.00" y2="1145.50" stroke="#262626" stroke-width="1.2"/>
<rect x="353.26" y="1129.70" width="12.40" height="14.30" fill="#e32227" stroke="#151515" stroke-width="1.3"/>
<line x1="353.26" x2="365.66" y1="1138.20" y2="1138.20" stroke="#222" stroke-width="2.0"/>
<line x1="377.16" x2="377.16" y1="1112.40" y2="1158.60" stroke="#262626" stroke-width="1.2"/>
<line x1="377.16" x2="377.16" y1="1192.50" y2="1209.50" stroke="#262626" stroke-width="1.2"/>
<rect x="370.96" y="1158.60" width="12.40" height="33.90" fill="#6b8fcf" stroke="#151515" stroke-width="1.3"/>
<line x1="370.96" x2="383.36" y1="1165.90" y2="1165.90" stroke="#222" stroke-width="2.0"/>
<line x1="404.40" x2="404.40" y1="789.10" y2="804.40" stroke="#262626" stroke-width="1.2"/>
<line x1="404.40" x2="404.40" y1="859.20" y2="898.30" stroke="#262626" stroke-width="1.2"/>
<rect x="398.20" y="804.40" width="12.40" height="54.80" fill="#f3b4c3" stroke="#151515" stroke-width="1.3"/>
<line x1="398.20" x2="410.60" y1="819.40" y2="819.40" stroke="#222" stroke-width="2.0"/>
<line x1="422.10" x2="422.10" y1="1031.20" y2="1039.40" stroke="#262626" stroke-width="1.2"/>
<line x1="422.10" x2="422.10" y1="1071.50" y2="1091.50" stroke="#262626" stroke-width="1.2"/>
<rect x="415.90" y="1039.40" width="12.40" height="32.10" fill="#e32227" stroke="#151515" stroke-width="1.3"/>
<line x1="415.90" x2="428.30" y1="1044.80" y2="1044.80" stroke="#222" stroke-width="2.0"/>
<line x1="439.80" x2="439.80" y1="1122.30" y2="1128.10" stroke="#262626" stroke-width="1.2"/>
<line x1="439.80" x2="439.80" y1="1170.40" y2="1193.90" stroke="#262626" stroke-width="1.2"/>
<rect x="433.60" y="1128.10" width="12.40" height="42.30" fill="#6b8fcf" stroke="#151515" stroke-width="1.3"/>
<line x1="433.60" x2="446.00" y1="1162.40" y2="1162.40" stroke="#222" stroke-width="2.0"/>
<line x1="467.04" x2="467.04" y1="870.10" y2="871.80" stroke="#262626" stroke-width="1.2"/>
<line x1="467.04" x2="467.04" y1="882.10" y2="889.80" stroke="#262626" stroke-width="1.2"/>
<rect x="460.84" y="871.80" width="12.40" height="10.30" fill="#f3b4c3" stroke="#151515" stroke-width="1.3"/>
<line x1="460.84" x2="473.24" y1="872.70" y2="872.70" stroke="#222" stroke-width="2.0"/>
<line x1="484.74" x2="484.74" y1="872.10" y2="879.10" stroke="#262626" stroke-width="1.2"/>
<line x1="484.74" x2="484.74" y1="910.30" y2="914.70" stroke="#262626" stroke-width="1.2"/>
<rect x="478.54" y="879.10" width="12.40" height="31.20" fill="#e32227" stroke="#151515" stroke-width="1.3"/>
<line x1="478.54" x2="490.94" y1="892.00" y2="892.00" stroke="#222" stroke-width="2.0"/>
<line x1="502.44" x2="502.44" y1="1058.20" y2="1070.70" stroke="#262626" stroke-width="1.2"/>
<line x1="502.44" x2="502.44" y1="1119.20" y2="1131.20" stroke="#262626" stroke-width="1.2"/>
<rect x="496.24" y="1070.70" width="12.40" height="48.50" fill="#6b8fcf" stroke="#151515" stroke-width="1.3"/>
<line x1="496.24" x2="508.64" y1="1079.80" y2="1079.80" stroke="#222" stroke-width="2.0"/>
<line x1="529.68" x2="529.68" y1="818.70" y2="854.60" stroke="#262626" stroke-width="1.2"/>
<rect x="523.48" y="854.60" width="12.40" height="26.90" fill="#f3b4c3" stroke="#151515" stroke-width="1.3"/>
<line x1="523.48" x2="535.88" y1="855.90" y2="855.90" stroke="#222" stroke-width="2.0"/>
<line x1="547.38" x2="547.38" y1="872.70" y2="873.70" stroke="#262626" stroke-width="1.2"/>
<rect x="541.18" y="873.70" width="12.40" height="13.70" fill="#e32227" stroke="#151515" stroke-width="1.3"/>
<line x1="541.18" x2="553.58" y1="881.20" y2="881.20" stroke="#222" stroke-width="2.0"/>
<line x1="565.08" x2="565.08" y1="1038.70" y2="1049.30" stroke="#262626" stroke-width="1.2"/>
<line x1="565.08" x2="565.08" y1="1091.60" y2="1101.10" stroke="#262626" stroke-width="1.2"/>
<rect x="558.88" y="1049.30" width="12.40" height="42.30" fill="#6b8fcf" stroke="#151515" stroke-width="1.3"/>
<line x1="558.88" x2="571.28" y1="1070.40" y2="1070.40" stroke="#222" stroke-width="2.0"/>
<line x1="592.32" x2="592.32" y1="837.20" y2="889.80" stroke="#262626" stroke-width="1.2"/>
<line x1="592.32" x2="592.32" y1="958.30" y2="1006.70" stroke="#262626" stroke-width="1.2"/>
<rect x="586.12" y="889.80" width="12.40" height="68.50" fill="#e32227" stroke="#151515" stroke-width="1.3"/>
<line x1="586.12" x2="598.52" y1="950.60" y2="950.60" stroke="#222" stroke-width="2.0"/>
<line x1="610.02" x2="610.02" y1="1013.90" y2="1025.00" stroke="#262626" stroke-width="1.2"/>
<line x1="610.02" x2="610.02" y1="1062.60" y2="1082.50" stroke="#262626" stroke-width="1.2"/>
<rect x="603.82" y="1025.00" width="12.40" height="37.60" fill="#6b8fcf" stroke="#151515" stroke-width="1.3"/>
<line x1="603.82" x2="616.22" y1="1033.00" y2="1033.00" stroke="#222" stroke-width="2.0"/>
<line x1="627.72" x2="627.72" y1="802.20" y2="845.00" stroke="#262626" stroke-width="1.2"/>
<rect x="621.52" y="845.00" width="12.40" height="83.90" fill="#f3b4c3" stroke="#151515" stroke-width="1.3"/>
<line x1="621.52" x2="633.92" y1="870.20" y2="870.20" stroke="#222" stroke-width="2.0"/>
<line x1="672.66" x2="672.66" y1="826.30" y2="834.00" stroke="#262626" stroke-width="1.2"/>
<line x1="672.66" x2="672.66" y1="891.50" y2="958.00" stroke="#262626" stroke-width="1.2"/>
<rect x="666.46" y="834.00" width="12.40" height="57.50" fill="#e32227" stroke="#151515" stroke-width="1.3"/>
<line x1="666.46" x2="678.86" y1="870.30" y2="870.30" stroke="#222" stroke-width="2.0"/>
<line x1="690.36" x2="690.36" y1="951.10" y2="973.80" stroke="#262626" stroke-width="1.2"/>
<line x1="690.36" x2="690.36" y1="1014.20" y2="1075.20" stroke="#262626" stroke-width="1.2"/>
<rect x="684.16" y="973.80" width="12.40" height="40.40" fill="#6b8fcf" stroke="#151515" stroke-width="1.3"/>
<line x1="684.16" x2="696.56" y1="991.10" y2="991.10" stroke="#222" stroke-width="2.0"/>
<line x1="735.30" x2="735.30" y1="960.10" y2="963.30" stroke="#262626" stroke-width="1.2"/>
<line x1="735.30" x2="735.30" y1="1033.60" y2="1054.40" stroke="#262626" stroke-width="1.2"/>
<rect x="729.10" y="963.30" width="12.40" height="70.30" fill="#e32227" stroke="#151515" stroke-width="1.3"/>
<line x1="729.10" x2="741.50" y1="1019.80" y2="1019.80" stroke="#222" stroke-width="2.0"/>
<line x1="753.00" x2="753.00" y1="1077.60" y2="1105.00" stroke="#262626" stroke-width="1.2"/>
<line x1="753.00" x2="753.00" y1="1197.90" y2="1305.70" stroke="#262626" stroke-width="1.2"/>
<rect x="746.80" y="1105.00" width="12.40" height="92.90" fill="#6b8fcf" stroke="#151515" stroke-width="1.3"/>
<line x1="746.80" x2="759.20" y1="1155.50" y2="1155.50" stroke="#222" stroke-width="2.0"/>
<line x1="797.94" x2="797.94" y1="796.50" y2="844.10" stroke="#262626" stroke-width="1.2"/>
<line x1="797.94" x2="797.94" y1="890.00" y2="914.30" stroke="#262626" stroke-width="1.2"/>
<rect x="791.74" y="844.10" width="12.40" height="45.90" fill="#e32227" stroke="#151515" stroke-width="1.3"/>
<line x1="791.74" x2="804.14" y1="885.90" y2="885.90" stroke="#222" stroke-width="2.0"/>
<line x1="815.64" x2="815.64" y1="1070.40" y2="1095.50" stroke="#262626" stroke-width="1.2"/>
<line x1="815.64" x2="815.64" y1="1125.60" y2="1130.30" stroke="#262626" stroke-width="1.2"/>
<rect x="809.44" y="1095.50" width="12.40" height="30.10" fill="#6b8fcf" stroke="#151515" stroke-width="1.3"/>
<line x1="809.44" x2="821.84" y1="1119.60" y2="1119.60" stroke="#222" stroke-width="2.0"/>
<circle cx="189.24" cy="988.70" r="2.6" fill="#1e1e1e"/>
<circle cx="189.24" cy="1184.90" r="2.6" fill="#1e1e1e"/>
<circle cx="234.18" cy="1222.80" r="2.6" fill="#1e1e1e"/>
<circle cx="251.88" cy="1158.70" r="2.6" fill="#1e1e1e"/>
<circle cx="251.88" cy="1270.90" r="2.6" fill="#1e1e1e"/>
<circle cx="529.68" cy="1016.40" r="2.6" fill="#1e1e1e"/>
<circle cx="547.38" cy="909.70" r="2.6" fill="#1e1e1e"/>
<circle cx="627.72" cy="1069.90" r="2.6" fill="#1e1e1e"/>
<text x="109.30" y="860.50" text-anchor="middle" font-size="21.6" font-weight="bold" fill="#bb0a0f" stroke="#fff" stroke-opacity="0.5" stroke-width="2.2" paint-order="stroke" stroke-linejoin="round" font-family="Liberation Sans, sans-serif">a</text>
<text x="126.90" y="1006.70" text-anchor="middle" font-size="21.6" font-weight="bold" fill="#2a5cb5" stroke="#fff" stroke-opacity="0.5" stroke-width="2.2" paint-order="stroke" stroke-linejoin="round" font-family="Liberation Sans, sans-serif">ac</text>
<text x="171.80" y="794.20" text-anchor="middle" font-size="21.6" font-weight="bold" fill="#bb0a0f" stroke="#fff" stroke-opacity="0.5" stroke-width="2.2" paint-order="stroke" stroke-linejoin="round" font-family="Liberation Sans, sans-serif">a</text>
<text x="189.50" y="1029.40" text-anchor="middle" font-size="21.6" font-weight="bold" fill="#2a5cb5" stroke="#fff" stroke-opacity="0.5" stroke-width="2.2" paint-order="stroke" stroke-linejoin="round" font-family="Liberation Sans, sans-serif">abc</text>
<text x="234.80" y="980.60" text-anchor="middle" font-size="21.6" font-weight="bold" fill="#bb0a0f" stroke="#fff" stroke-opacity="0.5" stroke-width="2.2" paint-order="stroke" stroke-linejoin="round" font-family="Liberation Sans, sans-serif">b</text>
<text x="251.70" y="1182.30" text-anchor="middle" font-size="21.6" font-weight="bold" fill="#2a5cb5" stroke="#fff" stroke-opacity="0.5" stroke-width="2.2" paint-order="stroke" stroke-linejoin="round" font-family="Liberation Sans, sans-serif">de</text>
<text x="296.60" y="955.30" text-anchor="middle" font-size="21.6" font-weight="bold" fill="#bb0a0f" stroke="#fff" stroke-opacity="0.5" stroke-width="2.2" paint-order="stroke" stroke-linejoin="round" font-family="Liberation Sans, sans-serif">bc</text>
<text x="313.80" y="1200.40" text-anchor="middle" font-size="21.6" font-weight="bold" fill="#2a5cb5" stroke="#fff" stroke-opacity="0.5" stroke-width="2.2" paint-order="stroke" stroke-linejoin="round" font-family="Liberation Sans, sans-serif">d</text>
<text x="341.30" y="840.50" text-anchor="middle" font-size="21.6" font-weight="bold" fill="#e8708c" stroke="#fff" stroke-opacity="0.5" stroke-width="2.2" paint-order="stroke" stroke-linejoin="round" font-family="Liberation Sans, sans-serif">a</text>
<text x="358.50" y="1105.40" text-anchor="middle" font-size="21.6" font-weight="bold" fill="#bb0a0f" stroke="#fff" stroke-opacity="0.5" stroke-width="2.2" paint-order="stroke" stroke-linejoin="round" font-family="Liberation Sans, sans-serif">c</text>
<text x="377.00" y="1105.40" text-anchor="middle" font-size="21.6" font-weight="bold" fill="#2a5cb5" stroke="#fff" stroke-opacity="0.5" stroke-width="2.2" paint-order="stroke" stroke-linejoin="round" font-family="Liberation Sans, sans-serif">de</text>
<text x="404.40" y="781.10" text-anchor="middle" font-size="21.6" font-weight="bold" fill="#e8708c" stroke="#fff" stroke-opacity="0.5" stroke-width="2.2" paint-order="stroke" stroke-linejoin="round" font-family="Liberation Sans, sans-serif">a</text>
<text x="422.70" y="1022.30" text-anchor="middle" font-size="21.6" font-weight="bold" fill="#bb0a0f" stroke="#fff" stroke-opacity="0.5" stroke-width="2.2" paint-order="stroke" stroke-linejoin="round" font-family="Liberation Sans, sans-serif">bc</text>
<text x="438.90" y="1105.10" text-anchor="middle" font-size="21.6" font-weight="bold" fill="#2a5cb5" stroke="#fff" stroke-opacity="0.5" stroke-width="2.2" paint-order="stroke" stroke-linejoin="round" font-family="Liberation Sans, sans-serif">de</text>
<text x="466.80" y="862.90" text-anchor="middle" font-size="21.6" font-weight="bold" fill="#e8708c" stroke="#fff" stroke-opacity="0.5" stroke-width="2.2" paint-order="stroke" stroke-linejoin="round" font-family="Liberation Sans, sans-serif">a</text>
<text x="484.10" y="862.90" text-anchor="middle" font-size="21.6" font-weight="bold" fill="#bb0a0f" stroke="#fff" stroke-opacity="0.5" stroke-width="2.2" paint-order="stroke" stroke-linejoin="round" font-family="Liberation Sans, sans-serif">a</text>
<text x="501.20" y="1050.80" text-anchor="middle" font-size="21.6" font-weight="bold" fill="#2a5cb5" stroke="#fff" stroke-opacity="0.5" stroke-width="2.2" paint-order="stroke" stroke-linejoin="round" font-family="Liberation Sans, sans-serif">a</text>
<text x="529.00" y="810.50" text-anchor="middle" font-size="21.6" font-weight="bold" fill="#e8708c" stroke="#fff" stroke-opacity="0.5" stroke-width="2.2" paint-order="stroke" stroke-linejoin="round" font-family="Liberation Sans, sans-serif">a</text>
<text x="545.40" y="862.90" text-anchor="middle" font-size="21.6" font-weight="bold" fill="#bb0a0f" stroke="#fff" stroke-opacity="0.5" stroke-width="2.2" paint-order="stroke" stroke-linejoin="round" font-family="Liberation Sans, sans-serif">a</text>
<text x="564.20" y="1029.40" text-anchor="middle" font-size="21.6" font-weight="bold" fill="#2a5cb5" stroke="#fff" stroke-opacity="0.5" stroke-width="2.2" paint-order="stroke" stroke-linejoin="round" font-family="Liberation Sans, sans-serif">a</text>
<text x="590.80" y="822.40" text-anchor="middle" font-size="21.6" font-weight="bold" fill="#bb0a0f" stroke="#fff" stroke-opacity="0.5" stroke-width="2.2" paint-order="stroke" stroke-linejoin="round" font-family="Liberation Sans, sans-serif">a</text>
<text x="609.10" y="1002.80" text-anchor="middle" font-size="21.6" font-weight="bold" fill="#2a5cb5" stroke="#fff" stroke-opacity="0.5" stroke-width="2.2" paint-order="stroke" stroke-linejoin="round" font-family="Liberation Sans, sans-serif">ac</text>
<text x="626.90" y="793.30" text-anchor="middle" font-size="21.6" font-weight="bold" fill="#dc4a6c" stroke="#fff" stroke-opacity="0.5" stroke-width="2.2" paint-order="stroke" stroke-linejoin="round" font-family="Liberation Sans, sans-serif">a</text>
<text x="671.80" y="822.30" text-anchor="middle" font-size="21.6" font-weight="bold" fill="#bb0a0f" stroke="#fff" stroke-opacity="0.5" stroke-width="2.2" paint-order="stroke" stroke-linejoin="round" font-family="Liberation Sans, sans-serif">a</text>
<text x="689.40" y="946.10" text-anchor="middle" font-size="21.6" font-weight="bold" fill="#2a5cb5" stroke="#fff" stroke-opacity="0.5" stroke-width="2.2" paint-order="stroke" stroke-linejoin="round" font-family="Liberation Sans, sans-serif">c</text>
<text x="735.10" y="946.70" text-anchor="middle" font-size="21.6" font-weight="bold" fill="#bb0a0f" stroke="#fff" stroke-opacity="0.5" stroke-width="2.2" paint-order="stroke" stroke-linejoin="round" font-family="Liberation Sans, sans-serif">b</text>
<text x="748.40" y="1068.90" text-anchor="middle" font-size="21.6" font-weight="bold" fill="#2a5cb5" stroke="#fff" stroke-opacity="0.5" stroke-width="2.2" paint-order="stroke" stroke-linejoin="round" font-family="Liberation Sans, sans-serif">def</text>
<text x="796.00" y="791.20" text-anchor="middle" font-size="21.6" font-weight="bold" fill="#bb0a0f" stroke="#fff" stroke-opacity="0.5" stroke-width="2.2" paint-order="stroke" stroke-linejoin="round" font-family="Liberation Sans, sans-serif">a</text>
<text x="812.90" y="1068.60" text-anchor="middle" font-size="21.6" font-weight="bold" fill="#2a5cb5" stroke="#fff" stroke-opacity="0.5" stroke-width="2.2" paint-order="stroke" stroke-linejoin="round" font-family="Liberation Sans, sans-serif">bf</text>
<line x1="81.4" x2="81.4" y1="753.50" y2="1358.90" stroke="#2a2a2a" stroke-width="1.25"/>
<line x1="77.8" x2="81" y1="781.18" y2="781.18" stroke="#333" stroke-width="1.1"/>
<text x="75.3" y="788.78" text-anchor="end" font-size="20.6" fill="#000" font-family="Liberation Sans, sans-serif">1.2</text>
<line x1="77.8" x2="81" y1="831.20" y2="831.20" stroke="#333" stroke-width="1.1"/>
<text x="75.3" y="838.80" text-anchor="end" font-size="20.6" fill="#000" font-family="Liberation Sans, sans-serif">1.0</text>
<line x1="77.8" x2="81" y1="881.22" y2="881.22" stroke="#333" stroke-width="1.1"/>
<text x="75.3" y="888.82" text-anchor="end" font-size="20.6" fill="#000" font-family="Liberation Sans, sans-serif">0.8</text>
<line x1="77.8" x2="81" y1="931.24" y2="931.24" stroke="#333" stroke-width="1.1"/>
<text x="75.3" y="938.84" text-anchor="end" font-size="20.6" fill="#000" font-family="Liberation Sans, sans-serif">0.6</text>
<line x1="77.8" x2="81" y1="981.26" y2="981.26" stroke="#333" stroke-width="1.1"/>
<text x="75.3" y="988.86" text-anchor="end" font-size="20.6" fill="#000" font-family="Liberation Sans, sans-serif">0.4</text>
<line x1="77.8" x2="81" y1="1031.28" y2="1031.28" stroke="#333" stroke-width="1.1"/>
<text x="75.3" y="1038.88" text-anchor="end" font-size="20.6" fill="#000" font-family="Liberation Sans, sans-serif">0.2</text>
<line x1="77.8" x2="81" y1="1081.30" y2="1081.30" stroke="#333" stroke-width="1.1"/>
<text x="75.3" y="1088.90" text-anchor="end" font-size="20.6" fill="#000" font-family="Liberation Sans, sans-serif">0.0</text>
<line x1="77.8" x2="81" y1="1131.32" y2="1131.32" stroke="#333" stroke-width="1.1"/>
<text x="75.3" y="1138.92" text-anchor="end" font-size="20.6" fill="#000" font-family="Liberation Sans, sans-serif">−0.2</text>
<line x1="77.8" x2="81" y1="1181.34" y2="1181.34" stroke="#333" stroke-width="1.1"/>
<text x="75.3" y="1188.94" text-anchor="end" font-size="20.6" fill="#000" font-family="Liberation Sans, sans-serif">−0.4</text>
<line x1="77.8" x2="81" y1="1231.36" y2="1231.36" stroke="#333" stroke-width="1.1"/>
<text x="75.3" y="1238.96" text-anchor="end" font-size="20.6" fill="#000" font-family="Liberation Sans, sans-serif">−0.6</text>
<line x1="77.8" x2="81" y1="1281.38" y2="1281.38" stroke="#333" stroke-width="1.1"/>
<text x="75.3" y="1288.98" text-anchor="end" font-size="20.6" fill="#000" font-family="Liberation Sans, sans-serif">−0.8</text>
<line x1="77.8" x2="81" y1="1331.40" y2="1331.40" stroke="#333" stroke-width="1.1"/>
<text x="75.3" y="1339.00" text-anchor="end" font-size="20.6" fill="#000" font-family="Liberation Sans, sans-serif">−1.0</text>
<text transform="translate(26.60,1058.80) rotate(-90)" text-anchor="middle" font-size="25.5" font-weight="bold" fill="#000" font-family="Liberation Sans, sans-serif"><tspan font-style="italic">Psyllophila</tspan> titer/host cell (log10)</text>
<path d="M341.3,1365.2 V1384.5 H378.3 V1372.3" fill="none" stroke="#e0201f" stroke-width="1.9"/>
<path d="M372.7,1372.7 L378.3,1364.9 L383.9,1372.7 Z" fill="#e0201f" stroke="#e0201f" stroke-width="1.0" stroke-linejoin="round"/>
<path d="M628.3,1365.6 V1384.5 H744.7 V1372.3" fill="none" stroke="#e0201f" stroke-width="1.9"/>
<path d="M739.1,1372.7 L744.7,1364.9 L750.3,1372.7 Z" fill="#e0201f" stroke="#e0201f" stroke-width="1.0" stroke-linejoin="round"/>
<text x="0.8" y="1418" font-size="64" font-weight="bold" fill="#000" font-family="Liberation Sans, sans-serif">c</text>
<rect x="75.5" y="1427.2" width="253.2" height="461.1" fill="#d9d1e8"/>
<rect x="703.6" y="1427.2" width="122.7" height="461.1" fill="#d9d1e8"/>
<rect x="618.9" y="1427.2" width="21.3" height="461.1" fill="#e6e0f0"/>
<path d="M618.9,1427.2 H640.2 V1778.6 L618.9,1806.7 Z" fill="#d9d1e8"/>
<line x1="139.7" x2="139.7" y1="1427.2" y2="1888.3" stroke="#9a9a9a" stroke-width="1"/>
<line x1="203.3" x2="203.3" y1="1427.2" y2="1888.3" stroke="#9a9a9a" stroke-width="1"/>
<line x1="265.5" x2="265.5" y1="1427.2" y2="1888.3" stroke="#9a9a9a" stroke-width="1"/>
<line x1="328.7" x2="328.7" y1="1427.2" y2="1888.3" stroke="#9a9a9a" stroke-width="1"/>
<line x1="389.3" x2="389.3" y1="1427.2" y2="1888.3" stroke="#9a9a9a" stroke-width="1"/>
<line x1="453.5" x2="453.5" y1="1427.2" y2="1888.3" stroke="#9a9a9a" stroke-width="1"/>
<line x1="516.3" x2="516.3" y1="1427.2" y2="1888.3" stroke="#9a9a9a" stroke-width="1"/>
<line x1="578.0" x2="578.0" y1="1427.2" y2="1888.3" stroke="#9a9a9a" stroke-width="1"/>
<line x1="640.2" x2="640.2" y1="1427.2" y2="1888.3" stroke="#9a9a9a" stroke-width="1"/>
<line x1="703.6" x2="703.6" y1="1427.2" y2="1888.3" stroke="#9a9a9a" stroke-width="1"/>
<line x1="766.2" x2="766.2" y1="1427.2" y2="1888.3" stroke="#9a9a9a" stroke-width="1"/>
<line x1="76.0" x2="76.0" y1="1427.2" y2="1888.3" stroke="#a8a2b8" stroke-width="1"/>
<line x1="75.5" x2="826.3" y1="1888.6" y2="1888.6" stroke="#cfcfcf" stroke-width="1"/>
<line x1="111.9" y1="1744.7" x2="173.1" y2="1749.8" stroke="#000" stroke-width="2.6" stroke-linecap="round"/>
<line x1="173.1" y1="1749.8" x2="235.6" y2="1829.6" stroke="#000" stroke-width="2.6" stroke-linecap="round"/>
<line x1="235.6" y1="1829.6" x2="296.8" y2="1852.9" stroke="#000" stroke-width="2.6" stroke-linecap="round"/>
<line x1="296.8" y1="1852.9" x2="359.2" y2="1589.1" stroke="#000" stroke-width="3.6" stroke-linecap="round"/>
<line x1="359.2" y1="1589.1" x2="420.4" y2="1517.6" stroke="#000" stroke-width="4.0" stroke-linecap="round"/>
<line x1="420.4" y1="1517.6" x2="481.9" y2="1460.9" stroke="#000" stroke-width="4.0" stroke-linecap="round"/>
<line x1="481.9" y1="1460.9" x2="543.7" y2="1553.7" stroke="#000" stroke-width="4.0" stroke-linecap="round"/>
<line x1="543.7" y1="1553.7" x2="605.8" y2="1824.0" stroke="#000" stroke-width="4.0" stroke-linecap="round"/>
<line x1="605.8" y1="1824.0" x2="667.9" y2="1742.1" stroke="#000" stroke-width="3.6" stroke-linecap="round"/>
<line x1="667.9" y1="1742.1" x2="728.9" y2="1572.0" stroke="#000" stroke-width="4.0" stroke-linecap="round"/>
<line x1="728.9" y1="1572.0" x2="790.5" y2="1763.9" stroke="#000" stroke-width="2.8" stroke-linecap="round"/>
<circle cx="111.9" cy="1744.7" r="3.6" fill="#000"/>
<circle cx="173.1" cy="1749.8" r="3.6" fill="#000"/>
<circle cx="235.6" cy="1829.6" r="3.6" fill="#000"/>
<circle cx="296.8" cy="1852.9" r="3.6" fill="#000"/>
<circle cx="359.2" cy="1589.1" r="3.6" fill="#000"/>
<circle cx="420.4" cy="1517.6" r="3.6" fill="#000"/>
<circle cx="481.9" cy="1460.9" r="3.6" fill="#000"/>
<circle cx="543.7" cy="1553.7" r="3.6" fill="#000"/>
<circle cx="605.8" cy="1824.0" r="3.6" fill="#000"/>
<circle cx="667.9" cy="1742.1" r="3.6" fill="#000"/>
<circle cx="728.9" cy="1572.0" r="3.6" fill="#000"/>
<circle cx="790.5" cy="1763.9" r="3.6" fill="#000"/>
<text x="63.4" y="1891.80" text-anchor="end" font-size="11.5" fill="#111" font-family="Liberation Sans, sans-serif">0</text>
<text x="63.4" y="1846.48" text-anchor="end" font-size="11.5" fill="#111" font-family="Liberation Sans, sans-serif">25</text>
<text x="63.4" y="1801.16" text-anchor="end" font-size="11.5" fill="#111" font-family="Liberation Sans, sans-serif">50</text>
<text x="63.4" y="1755.84" text-anchor="end" font-size="11.5" fill="#111" font-family="Liberation Sans, sans-serif">75</text>
<text x="63.4" y="1710.52" text-anchor="end" font-size="11.5" fill="#111" font-family="Liberation Sans, sans-serif">100</text>
<text x="63.4" y="1665.20" text-anchor="end" font-size="11.5" fill="#111" font-family="Liberation Sans, sans-serif">125</text>
<text x="63.4" y="1619.88" text-anchor="end" font-size="11.5" fill="#111" font-family="Liberation Sans, sans-serif">150</text>
<text x="63.4" y="1574.56" text-anchor="end" font-size="11.5" fill="#111" font-family="Liberation Sans, sans-serif">175</text>
<text x="63.4" y="1529.24" text-anchor="end" font-size="11.5" fill="#111" font-family="Liberation Sans, sans-serif">200</text>
<text x="63.4" y="1483.92" text-anchor="end" font-size="11.5" fill="#111" font-family="Liberation Sans, sans-serif">225</text>
<text x="63.4" y="1438.60" text-anchor="end" font-size="11.5" fill="#111" font-family="Liberation Sans, sans-serif">250</text>
<text transform="translate(25.1,1663.5) rotate(-90)" text-anchor="middle" font-size="24.4" font-weight="bold" fill="#000" font-family="Liberation Sans, sans-serif">Abundance of psylllids (N of specimens)</text>
<text transform="translate(117.6,1906.8) rotate(-47.5)" text-anchor="end" font-size="14.2" font-weight="bold" fill="#000" font-family="Liberation Sans, sans-serif">January</text>
<text transform="translate(178.2,1906.5) rotate(-47.5)" text-anchor="end" font-size="14.2" font-weight="bold" fill="#000" font-family="Liberation Sans, sans-serif">February</text>
<text transform="translate(240.5,1906.2) rotate(-47.5)" text-anchor="end" font-size="14.2" font-weight="bold" fill="#000" font-family="Liberation Sans, sans-serif">March</text>
<text transform="translate(301.6,1907.0) rotate(-47.5)" text-anchor="end" font-size="14.2" font-weight="bold" fill="#000" font-family="Liberation Sans, sans-serif">April</text>
<text transform="translate(363.5,1907.0) rotate(-47.5)" text-anchor="end" font-size="14.2" font-weight="bold" fill="#000" font-family="Liberation Sans, sans-serif">May</text>
<text transform="translate(425.6,1906.6) rotate(-47.5)" text-anchor="end" font-size="14.2" font-weight="bold" fill="#000" font-family="Liberation Sans, sans-serif">June</text>
<text transform="translate(487.8,1907.0) rotate(-47.5)" text-anchor="end" font-size="14.2" font-weight="bold" fill="#000" font-family="Liberation Sans, sans-serif">July</text>
<text transform="translate(547.9,1906.4) rotate(-47.5)" text-anchor="end" font-size="14.2" font-weight="bold" fill="#000" font-family="Liberation Sans, sans-serif">August</text>
<text transform="translate(611.1,1907.3) rotate(-47.5)" text-anchor="end" font-size="14.2" font-weight="bold" fill="#000" font-family="Liberation Sans, sans-serif">September</text>
<text transform="translate(671.9,1907.3) rotate(-47.5)" text-anchor="end" font-size="14.2" font-weight="bold" fill="#000" font-family="Liberation Sans, sans-serif">October</text>
<text transform="translate(733.5,1907.8) rotate(-47.5)" text-anchor="end" font-size="14.2" font-weight="bold" fill="#000" font-family="Liberation Sans, sans-serif">November</text>
<text transform="translate(795.5,1908.2) rotate(-47.5)" text-anchor="end" font-size="14.2" font-weight="bold" fill="#000" font-family="Liberation Sans, sans-serif">December</text>
<path d="M75.4,1967.1 V1982.5 H327.8 V1967.1" fill="none" stroke="#111" stroke-width="2"/>
<path d="M328.9,2017.2 V2031.8 H703.8 V2017.2" fill="none" stroke="#111" stroke-width="2"/>
<path d="M710.2,1967.4 V1982.6 H827.1 V1967.4" fill="none" stroke="#111" stroke-width="2"/>
<text x="202.3" y="2005" text-anchor="middle" font-size="21.3" fill="#111" font-family="Liberation Sans, sans-serif">overwintering generation</text>
<text x="199.4" y="2025.7" text-anchor="middle" font-size="15.3" fill="#111" font-family="Liberation Sans, sans-serif">(big size, dark-coloured morphs)</text>
<text x="515.5" y="2056.7" text-anchor="middle" font-size="21.3" fill="#111" font-family="Liberation Sans, sans-serif">summer generations</text>
<text x="512.8" y="2075.9" text-anchor="middle" font-size="15.3" fill="#111" font-family="Liberation Sans, sans-serif">(small size, light-coloured morphs)</text>
<text x="713.7" y="2005" font-size="21.3" fill="#111" font-family="Liberation Sans, sans-serif">overwintering</text>
<text x="713.7" y="2030.6" font-size="21.3" fill="#111" font-family="Liberation Sans, sans-serif">generation</text>
<text x="711" y="2052.6" font-size="15.3" fill="#111" font-family="Liberation Sans, sans-serif">(big, dark-coloured</text>
<text x="715" y="2071" font-size="15.3" fill="#111" font-family="Liberation Sans, sans-serif">morphs)</text>
<g id="tree1"><path d="M179.5,2316.8 C183,2313 187,2312 191.2,2311 C195,2309.5 199,2308.5 202.9,2308 C206,2306.5 208,2305.5 210.7,2305.2 C214,2305 216,2305.5 218.5,2306.1 C223,2307.5 226,2308.5 230.2,2309 C234,2308.5 237,2307 239.9,2307.1 C243,2307.5 245,2309.5 247.7,2311 C252,2313 256,2314 261.3,2314.9 C266,2315.5 271,2316 276.9,2316.8 C281,2317.5 284,2319 285.7,2320.7 C286,2322.5 285,2324 282.7,2324.6 C275,2325 268,2324.2 261.3,2323.7 C240,2324 220,2324.3 202.9,2324.6 C195,2324.5 188,2323.5 183.4,2321.7 C180.5,2320.5 179,2318.5 179.5,2316.8 Z" fill="#6582b8" stroke="#111" stroke-width="1.25"/>
<path d="M202.3,2133.5 C204.2,2175 205,2225 202.2,2258 C201.6,2285 202.4,2308 202.9,2322.4 L263.3,2321.7" fill="none" stroke="#050505" stroke-width="3.5" stroke-linecap="round" stroke-linejoin="round"/>
<path d="M203.7,2110 C206.5,2120 206.3,2131 204.4,2138.7 M223.8,2112 C223.6,2120 223.5,2127 222.9,2131 C218,2143 210,2153 204.9,2161 M222.9,2131 C229,2128 236,2125 243.6,2121.5 M174.8,2118 C182,2121 184.5,2132 186,2144.7 C188,2153 191,2159 193.7,2163.6 C196,2167 199,2170 201.5,2173 M171.4,2137 C176,2140 181,2143 186,2147.3 M132.2,2141.2 C137,2142.5 140,2146 142.2,2149.8 C146,2157 148.5,2162 152.5,2168.7 C157,2175 163,2181 168,2187.6 C171.5,2194 174,2200 176.5,2206.5 C178.5,2212 180,2216 181.7,2220.3 C185,2227 189,2232 193.7,2237.5 C196.5,2241 199,2244 201.9,2246.7 M158.5,2153.3 C162.5,2165 165.5,2178 168.8,2189.3 M150.4,2192.8 C155.5,2194.5 159.5,2199 162.8,2203 C167.5,2209 173,2214 179.1,2218.6 M224.3,2160.1 C220,2175 212.5,2189 205.8,2199.7 M238.4,2156.7 C237,2166 231.5,2174 232.4,2182.5 C233.2,2190 235.5,2196 234.1,2203.1 C232.5,2211 229.5,2218 228.1,2223.7 C226.5,2232 223.5,2240 220.4,2246.7 C215.5,2256 209,2263 203.9,2269.1 M254.7,2168.7 C254.5,2174 253.8,2178 252.1,2180.8 C249.5,2184 246,2186 243.6,2189.3 C240,2194 237.3,2198 235,2203.1 M266.2,2205.8 C259,2219 252.5,2227 245.7,2233.1 C238,2240 228.5,2244 220.4,2247.7" fill="none" stroke="#0a0a0a" stroke-width="1.75" stroke-linecap="round" stroke-linejoin="round"/>
<g transform="translate(99.60,2175.60) scale(1.17,0.98)"><path vector-effect="non-scaling-stroke" d="M0.00,0.00 L0.00,-19.60 M5.16,-21.87 C5.16,-16.92 -5.16,-16.92 -5.16,-21.87 M0.00,0.00 L-13.86,-13.86 M-11.82,-19.11 C-8.32,-15.61 -15.61,-8.32 -19.11,-11.82 M0.00,0.00 L-19.60,-0.00 M-21.87,-5.16 C-16.92,-5.16 -16.92,5.16 -21.87,5.16 M0.00,0.00 L-13.86,13.86 M-19.11,11.82 C-15.61,8.32 -8.32,15.61 -11.82,19.11 M0.00,0.00 L-0.00,19.60 M-5.16,21.87 C-5.16,16.92 5.16,16.92 5.16,21.87 M0.00,0.00 L13.86,13.86 M11.82,19.11 C8.32,15.61 15.61,8.32 19.11,11.82 M0.00,0.00 L19.60,0.00 M21.87,5.16 C16.92,5.16 16.92,-5.16 21.87,-5.16 M0.00,0.00 L13.86,-13.86 M19.11,-11.82 C15.61,-8.32 8.32,-15.61 11.82,-19.11" fill="none" stroke="#2d5fae" stroke-width="2.35" stroke-linecap="round" stroke-linejoin="round"/></g>
<g transform="translate(293.90,2138.40) scale(1.13,0.98)"><path vector-effect="non-scaling-stroke" d="M0.00,0.00 L0.00,-19.60 M5.16,-21.87 C5.16,-16.92 -5.16,-16.92 -5.16,-21.87 M0.00,0.00 L-13.86,-13.86 M-11.82,-19.11 C-8.32,-15.61 -15.61,-8.32 -19.11,-11.82 M0.00,0.00 L-19.60,-0.00 M-21.87,-5.16 C-16.92,-5.16 -16.92,5.16 -21.87,5.16 M0.00,0.00 L-13.86,13.86 M-19.11,11.82 C-15.61,8.32 -8.32,15.61 -11.82,19.11 M0.00,0.00 L-0.00,19.60 M-5.16,21.87 C-5.16,16.92 5.16,16.92 5.16,21.87 M0.00,0.00 L13.86,13.86 M11.82,19.11 C8.32,15.61 15.61,8.32 19.11,11.82 M0.00,0.00 L19.60,0.00 M21.87,5.16 C16.92,5.16 16.92,-5.16 21.87,-5.16 M0.00,0.00 L13.86,-13.86 M19.11,-11.82 C15.61,-8.32 8.32,-15.61 11.82,-19.11" fill="none" stroke="#2d5fae" stroke-width="2.35" stroke-linecap="round" stroke-linejoin="round"/></g>
<g transform="translate(152.30,2267.20) scale(1.12,0.98)"><path vector-effect="non-scaling-stroke" d="M0.00,0.00 L0.00,-11.80 M3.11,-13.17 C3.11,-10.19 -3.11,-10.19 -3.11,-13.17 M0.00,0.00 L-8.34,-8.34 M-7.11,-11.51 C-5.01,-9.40 -9.40,-5.01 -11.51,-7.11 M0.00,0.00 L-11.80,-0.00 M-13.17,-3.11 C-10.19,-3.11 -10.19,3.11 -13.17,3.11 M0.00,0.00 L-8.34,8.34 M-11.51,7.11 C-9.40,5.01 -5.01,9.40 -7.11,11.51 M0.00,0.00 L-0.00,11.80 M-3.11,13.17 C-3.11,10.19 3.11,10.19 3.11,13.17 M0.00,0.00 L8.34,8.34 M7.11,11.51 C5.01,9.40 9.40,5.01 11.51,7.11 M0.00,0.00 L11.80,0.00 M13.17,3.11 C10.19,3.11 10.19,-3.11 13.17,-3.11 M0.00,0.00 L8.34,-8.34 M11.51,-7.11 C9.40,-5.01 5.01,-9.40 7.11,-11.51" fill="none" stroke="#2d5fae" stroke-width="2.1" stroke-linecap="round" stroke-linejoin="round"/></g></g>
<g transform="translate(542.5,0.6)"><path d="M179.5,2316.8 C183,2313 187,2312 191.2,2311 C195,2309.5 199,2308.5 202.9,2308 C206,2306.5 208,2305.5 210.7,2305.2 C214,2305 216,2305.5 218.5,2306.1 C223,2307.5 226,2308.5 230.2,2309 C234,2308.5 237,2307 239.9,2307.1 C243,2307.5 245,2309.5 247.7,2311 C252,2313 256,2314 261.3,2314.9 C266,2315.5 271,2316 276.9,2316.8 C281,2317.5 284,2319 285.7,2320.7 C286,2322.5 285,2324 282.7,2324.6 C275,2325 268,2324.2 261.3,2323.7 C240,2324 220,2324.3 202.9,2324.6 C195,2324.5 188,2323.5 183.4,2321.7 C180.5,2320.5 179,2318.5 179.5,2316.8 Z" fill="#6582b8" stroke="#111" stroke-width="1.25"/>
<path d="M202.3,2133.5 C204.2,2175 205,2225 202.2,2258 C201.6,2285 202.4,2308 202.9,2322.4 L263.3,2321.7" fill="none" stroke="#050505" stroke-width="3.5" stroke-linecap="round" stroke-linejoin="round"/>
<path d="M203.7,2110 C206.5,2120 206.3,2131 204.4,2138.7 M223.8,2112 C223.6,2120 223.5,2127 222.9,2131 C218,2143 210,2153 204.9,2161 M222.9,2131 C229,2128 236,2125 243.6,2121.5 M174.8,2118 C182,2121 184.5,2132 186,2144.7 C188,2153 191,2159 193.7,2163.6 C196,2167 199,2170 201.5,2173 M171.4,2137 C176,2140 181,2143 186,2147.3 M132.2,2141.2 C137,2142.5 140,2146 142.2,2149.8 C146,2157 148.5,2162 152.5,2168.7 C157,2175 163,2181 168,2187.6 C171.5,2194 174,2200 176.5,2206.5 C178.5,2212 180,2216 181.7,2220.3 C185,2227 189,2232 193.7,2237.5 C196.5,2241 199,2244 201.9,2246.7 M158.5,2153.3 C162.5,2165 165.5,2178 168.8,2189.3 M150.4,2192.8 C155.5,2194.5 159.5,2199 162.8,2203 C167.5,2209 173,2214 179.1,2218.6 M224.3,2160.1 C220,2175 212.5,2189 205.8,2199.7 M238.4,2156.7 C237,2166 231.5,2174 232.4,2182.5 C233.2,2190 235.5,2196 234.1,2203.1 C232.5,2211 229.5,2218 228.1,2223.7 C226.5,2232 223.5,2240 220.4,2246.7 C215.5,2256 209,2263 203.9,2269.1 M254.7,2168.7 C254.5,2174 253.8,2178 252.1,2180.8 C249.5,2184 246,2186 243.6,2189.3 C240,2194 237.3,2198 235,2203.1 M266.2,2205.8 C259,2219 252.5,2227 245.7,2233.1 C238,2240 228.5,2244 220.4,2247.7" fill="none" stroke="#0a0a0a" stroke-width="1.75" stroke-linecap="round" stroke-linejoin="round"/>
<g transform="translate(99.60,2175.60) scale(1.17,0.98)"><path vector-effect="non-scaling-stroke" d="M0.00,0.00 L0.00,-19.60 M5.16,-21.87 C5.16,-16.92 -5.16,-16.92 -5.16,-21.87 M0.00,0.00 L-13.86,-13.86 M-11.82,-19.11 C-8.32,-15.61 -15.61,-8.32 -19.11,-11.82 M0.00,0.00 L-19.60,-0.00 M-21.87,-5.16 C-16.92,-5.16 -16.92,5.16 -21.87,5.16 M0.00,0.00 L-13.86,13.86 M-19.11,11.82 C-15.61,8.32 -8.32,15.61 -11.82,19.11 M0.00,0.00 L-0.00,19.60 M-5.16,21.87 C-5.16,16.92 5.16,16.92 5.16,21.87 M0.00,0.00 L13.86,13.86 M11.82,19.11 C8.32,15.61 15.61,8.32 19.11,11.82 M0.00,0.00 L19.60,0.00 M21.87,5.16 C16.92,5.16 16.92,-5.16 21.87,-5.16 M0.00,0.00 L13.86,-13.86 M19.11,-11.82 C15.61,-8.32 8.32,-15.61 11.82,-19.11" fill="none" stroke="#2d5fae" stroke-width="2.35" stroke-linecap="round" stroke-linejoin="round"/></g>
<g transform="translate(293.90,2138.40) scale(1.13,0.98)"><path vector-effect="non-scaling-stroke" d="M0.00,0.00 L0.00,-19.60 M5.16,-21.87 C5.16,-16.92 -5.16,-16.92 -5.16,-21.87 M0.00,0.00 L-13.86,-13.86 M-11.82,-19.11 C-8.32,-15.61 -15.61,-8.32 -19.11,-11.82 M0.00,0.00 L-19.60,-0.00 M-21.87,-5.16 C-16.92,-5.16 -16.92,5.16 -21.87,5.16 M0.00,0.00 L-13.86,13.86 M-19.11,11.82 C-15.61,8.32 -8.32,15.61 -11.82,19.11 M0.00,0.00 L-0.00,19.60 M-5.16,21.87 C-5.16,16.92 5.16,16.92 5.16,21.87 M0.00,0.00 L13.86,13.86 M11.82,19.11 C8.32,15.61 15.61,8.32 19.11,11.82 M0.00,0.00 L19.60,0.00 M21.87,5.16 C16.92,5.16 16.92,-5.16 21.87,-5.16 M0.00,0.00 L13.86,-13.86 M19.11,-11.82 C15.61,-8.32 8.32,-15.61 11.82,-19.11" fill="none" stroke="#2d5fae" stroke-width="2.35" stroke-linecap="round" stroke-linejoin="round"/></g>
<g transform="translate(152.30,2267.20) scale(1.12,0.98)"><path vector-effect="non-scaling-stroke" d="M0.00,0.00 L0.00,-11.80 M3.11,-13.17 C3.11,-10.19 -3.11,-10.19 -3.11,-13.17 M0.00,0.00 L-8.34,-8.34 M-7.11,-11.51 C-5.01,-9.40 -9.40,-5.01 -11.51,-7.11 M0.00,0.00 L-11.80,-0.00 M-13.17,-3.11 C-10.19,-3.11 -10.19,3.11 -13.17,3.11 M0.00,0.00 L-8.34,8.34 M-11.51,7.11 C-9.40,5.01 -5.01,9.40 -7.11,11.51 M0.00,0.00 L-0.00,11.80 M-3.11,13.17 C-3.11,10.19 3.11,10.19 3.11,13.17 M0.00,0.00 L8.34,8.34 M7.11,11.51 C5.01,9.40 9.40,5.01 11.51,7.11 M0.00,0.00 L11.80,0.00 M13.17,3.11 C10.19,3.11 10.19,-3.11 13.17,-3.11 M0.00,0.00 L8.34,-8.34 M11.51,-7.11 C9.40,-5.01 5.01,-9.40 7.11,-11.51" fill="none" stroke="#2d5fae" stroke-width="2.1" stroke-linecap="round" stroke-linejoin="round"/></g></g>
<path d="M384,2195.4 C392,2183 400,2170 408.6,2162.2 C415,2157 420,2154 423.5,2153 C430,2151 434,2150 437.3,2150.2 C442,2151 446,2152 448.7,2154.2 C453,2157 457,2160 460.2,2163.6 C450,2166 435,2170 417.8,2174.8 C405,2180 392,2189 384,2195.4 Z" fill="#86c176"/>
<path d="M384,2195.4 C392,2189 405,2180 417.8,2174.8 C435,2170 450,2166 460.2,2163.6 C457,2167 454,2169 451,2171.3 C446,2176 442,2179 437.3,2181.7 C430,2185 424,2186 417.8,2187.4 C410,2189 406,2190 402.9,2190.8 C395,2192 389,2194 384,2195.4 Z" fill="#23864a"/>
<path d="M384,2195.4 C392,2183 400,2170 408.6,2162.2 C415,2157 420,2154 423.5,2153 C430,2151 434,2150 437.3,2150.2 C442,2151 446,2152 448.7,2154.2 C453,2157 457,2160 460.2,2163.6 C457,2167 454,2169 451,2171.3 C446,2176 442,2179 437.3,2181.7 C430,2185 424,2186 417.8,2187.4 C410,2189 406,2190 402.9,2190.8 C395,2192 389,2194 384,2195.4 Z" fill="none" stroke="#35503a" stroke-width="0.6"/>
<path d="M460.2,2163.9 C467,2168 473,2172 479.7,2178.2" fill="none" stroke="#2c6a3a" stroke-width="1.8"/>
<path d="M455.6,2202.3 C463,2196 471,2189 478.5,2182.8" fill="none" stroke="#2c6a3a" stroke-width="2.0"/>
<path d="M459,2204.8 C452,2202 447,2202 442.9,2202.4 C436,2204 431,2207 428.5,2209.6 C423,2215 420,2220 418.9,2224.1 C415,2232 414,2237 412.5,2241.7 C410,2250 409,2255 407.6,2259.3 C405,2265 402,2271 399.6,2275.4 C410,2270 418,2265 422.1,2259.3 C426,2252 428,2246 430.1,2240.1 C433,2230 435,2224 438.1,2219.2 C443,2212 450,2207 459,2204.8 Z" fill="#1e8947"/>
<path d="M459,2204.8 C450,2207 443,2212 438.1,2219.2 C435,2224 433,2230 430.1,2240.1 C428,2246 426,2252 422.1,2259.3 C418,2265 410,2270 399.6,2275.4 C405,2274 410,2273.5 414.1,2272.2 C420,2270 426,2267 430.1,2264.1 C436,2259 440,2256 442.9,2252.9 C450,2245 456,2238 460.6,2232.1 C462,2226 462.5,2220 462.2,2216 C461.5,2210 460.5,2207 459,2204.8 Z" fill="#86ba86"/>
<path d="M425.5,2199.6 L427.5,2200.2 C440,2194 455,2188 470,2180.9 C474,2179 478,2178 481.5,2177.5 C487,2175 493,2171 498.6,2168.3 C504,2166 510,2165 515.8,2163.7 C521,2162.5 527,2161.5 533,2160.3 C536,2159.5 538.5,2158 541,2157.4 C545,2157 549,2158 552.5,2159.7 C548,2160.5 543,2161.5 538.7,2162.6 C533,2163.8 527,2164.8 521.5,2166 C515,2167.5 509,2169.5 504.4,2171.8 C498,2174.5 492,2177 487.2,2179.8 C483,2182 480,2183.5 476.9,2184.4 C472,2186 468,2187.5 462,2190 C452,2194.5 440,2199 429,2203.6 L426.5,2203 Z" fill="#6a3c15"/>
<path d="M474.8,2183.5 L474.6,2193.5" stroke="#3a2310" stroke-width="3"/>
<path d="M480.3,2177.5 C485,2183 488,2188 490.6,2194.7" fill="none" stroke="#3d3020" stroke-width="1"/>
<path d="M548,2158.2 C550,2157.8 551.5,2158.5 552.8,2159.7 C551,2160 549.5,2160.2 548,2160.3 Z" fill="#2e7a3a"/>
<path d="M527.3,2164.9 C526,2169 523,2172 523.2,2175.5 C523,2177.5 521.5,2179 520.6,2180.2" fill="none" stroke="#98c89a" stroke-width="2"/>
<path d="M520.4,2180.4 C517,2184 514.5,2188 513.5,2191.2 C512,2196 511.8,2202 512.4,2207.3 C513,2212 514,2217 515.8,2221 C518,2226 520.5,2229.5 523.8,2232.5 C527,2235.5 531,2238 534.1,2240.5 C537,2243.5 539.5,2247 541,2250.8 C543,2257 545,2263 546.7,2269.7 C548.5,2264 550.5,2258 552.5,2253.1 C553.5,2250 554,2247 554.8,2243.9 C556,2239 557.5,2234 558.2,2230.2 C558.5,2226 557.8,2222 557.1,2218.7 C556.8,2213 557.2,2208 557.1,2203.8 C556.5,2201.5 555,2199.5 553.6,2198.1 C551.5,2195 550,2192 547.9,2188.9 C545,2186 542,2184.5 538.7,2183.2 C535.5,2182 532.5,2181 529.6,2180.4 C526.5,2180 523.5,2180 520.4,2180.4 Z" fill="#199151" stroke="#2a4a30" stroke-width="0.6"/>
<path d="M534.1,2240.5 C537,2243.5 539.5,2247 541,2250.8 C543,2257 545,2263 546.7,2269.7 C546.5,2262 545.5,2256 544.5,2251 C542.5,2246 538.5,2243 534.1,2240.5 Z" fill="#3b6b40"/>
<path d="M475.4,2193 L474.5,2214" stroke="#a3b39a" stroke-width="2"/>
<path d="M473.4,2213.6 C467,2215 463,2217 460.6,2219.2 C456,2224 454,2228 452.5,2232.1 C449,2240 447,2244 444.5,2248.1 C440,2254 437,2257 434.9,2260.9 C431,2267 429.5,2272 429.3,2277 C429,2283 429.3,2288 430.1,2293 C432,2299 435,2303 438.1,2305.8 C443,2310 447,2312 450.9,2313.1 C456,2315 461,2315.5 465.4,2315.5 C470,2316 475,2316 479.8,2315.8 C486,2315 490,2314 494.2,2312.3 C500,2309 504,2306 507.1,2302.6 C511,2297 513,2292 513.5,2286.6 C514,2280 514,2275 513.5,2270.6 C512,2264 510,2260 507.1,2256.1 C503,2250 499,2245 495.8,2241.7 C492,2236 489,2230 486.2,2224.1 C484,2220 483,2217 481.4,2215.2 C478,2213.5 476,2213.4 473.4,2213.6 Z" fill="#9daf7c"/>
<path d="M473.4,2213.6 C467,2215 463,2217 460.6,2219.2 C456,2224 454,2228 452.5,2232.1 C449,2240 447,2244 444.5,2248.1 C440,2254 437,2257 434.9,2260.9 C431,2267 429.5,2272 429.3,2277 C429,2283 429.3,2288 430.1,2293 C432,2299 435,2303 438.1,2305.8 C443,2310 447,2312 450.9,2313.1 C456,2315 461,2315.5 465.4,2315.5 L474,2315.7 L473.8,2213.8 Z" fill="#e5c35e"/>
<path d="M473.4,2216 C467,2220 462,2225 459,2230.5 C457,2237 456,2241 454.1,2244.9 C451,2250 447,2254 444.5,2257.7 C441,2264 439,2270 438.1,2275.4 C437.5,2282 437.5,2287 438.1,2291.4 C440,2297 442,2300 444.5,2302.6 C449,2307 453,2309 457.4,2310.6 C463,2312.5 470,2313.5 479,2313.5 C485,2313.5 489,2313 492.6,2312.3 C496,2309 498,2306 499,2302.6 C499.5,2298 499.5,2294 499,2289.8 C497.5,2285 496.5,2281 495.8,2277 C495,2271 494.8,2266 494.2,2260.9 C493,2253 491,2247 489.4,2241.7 C485,2236 479,2232 475,2228.9 C474,2224 474,2219 473.4,2216 Z" fill="#d3c49b"/>
<path d="M466.5,2232 C469,2229 474,2228.5 478,2229 C483,2228.5 488,2228.5 490.5,2231 C492,2235 491.5,2240 489,2243 C486,2245 482,2244.5 479,2246 C475,2247.5 471,2246 468,2244 C465.5,2241 465,2236 466.5,2232 Z" fill="#f6e3a8"/>
<clipPath id="tanclip"><path d="M473.4,2216 C467,2220 462,2225 459,2230.5 C457,2237 456,2241 454.1,2244.9 C451,2250 447,2254 444.5,2257.7 C441,2264 439,2270 438.1,2275.4 C437.5,2282 437.5,2287 438.1,2291.4 C440,2297 442,2300 444.5,2302.6 C449,2307 453,2309 457.4,2310.6 C463,2312.5 470,2313.5 479,2313.5 C485,2313.5 489,2313 492.6,2312.3 C496,2309 498,2306 499,2302.6 C499.5,2298 499.5,2294 499,2289.8 C497.5,2285 496.5,2281 495.8,2277 C495,2271 494.8,2266 494.2,2260.9 C493,2253 491,2247 489.4,2241.7 C485,2236 479,2232 475,2228.9 C474,2224 474,2219 473.4,2216 Z"/></clipPath>
<g clip-path="url(#tanclip)" fill="#7e3419"><circle cx="446.1" cy="2263.2" r="0.63" fill-opacity="0.75"/><circle cx="459.7" cy="2275.5" r="0.46" fill-opacity="0.76"/><circle cx="468.6" cy="2279.3" r="0.53" fill-opacity="0.55"/><circle cx="467.6" cy="2295.7" r="0.77" fill-opacity="0.52"/><circle cx="486.7" cy="2311.4" r="0.72" fill-opacity="0.58"/><circle cx="452.6" cy="2223.4" r="0.67" fill-opacity="0.53"/><circle cx="458.9" cy="2239.3" r="0.63" fill-opacity="0.72"/><circle cx="474.0" cy="2298.7" r="0.66" fill-opacity="0.82"/><circle cx="460.1" cy="2267.5" r="0.52" fill-opacity="1.00"/><circle cx="466.9" cy="2312.6" r="0.85" fill-opacity="0.85"/><circle cx="462.2" cy="2250.7" r="0.39" fill-opacity="0.88"/><circle cx="470.0" cy="2258.4" r="0.86" fill-opacity="0.69"/><circle cx="474.3" cy="2309.2" r="0.48" fill-opacity="0.96"/><circle cx="464.2" cy="2264.8" r="0.94" fill-opacity="0.70"/><circle cx="446.3" cy="2228.6" r="0.51" fill-opacity="0.54"/><circle cx="450.9" cy="2252.3" r="0.93" fill-opacity="0.88"/><circle cx="457.5" cy="2232.7" r="0.39" fill-opacity="0.90"/><circle cx="462.5" cy="2238.2" r="0.69" fill-opacity="0.72"/><circle cx="458.3" cy="2239.4" r="0.74" fill-opacity="0.56"/><circle cx="458.9" cy="2260.3" r="0.48" fill-opacity="0.63"/><circle cx="476.8" cy="2310.4" r="0.88" fill-opacity="0.61"/><circle cx="456.1" cy="2257.9" r="0.86" fill-opacity="0.82"/><circle cx="462.9" cy="2231.1" r="0.50" fill-opacity="0.89"/><circle cx="461.2" cy="2251.9" r="0.53" fill-opacity="0.54"/><circle cx="451.3" cy="2230.2" r="0.71" fill-opacity="0.69"/><circle cx="460.9" cy="2263.2" r="0.93" fill-opacity="0.74"/><circle cx="470.1" cy="2274.3" r="0.44" fill-opacity="0.95"/><circle cx="467.4" cy="2296.4" r="0.50" fill-opacity="0.59"/><circle cx="475.0" cy="2289.3" r="0.92" fill-opacity="0.94"/><circle cx="465.0" cy="2276.9" r="0.60" fill-opacity="0.55"/><circle cx="461.9" cy="2225.5" r="0.77" fill-opacity="0.63"/><circle cx="470.0" cy="2297.0" r="0.71" fill-opacity="0.65"/><circle cx="457.9" cy="2238.0" r="0.49" fill-opacity="0.78"/><circle cx="468.9" cy="2299.6" r="0.72" fill-opacity="0.64"/><circle cx="473.8" cy="2305.5" r="0.51" fill-opacity="0.72"/><circle cx="457.7" cy="2227.5" r="0.46" fill-opacity="0.68"/><circle cx="471.9" cy="2274.1" r="0.88" fill-opacity="0.99"/><circle cx="474.1" cy="2281.8" r="0.76" fill-opacity="0.79"/><circle cx="459.4" cy="2234.8" r="0.90" fill-opacity="0.85"/><circle cx="474.6" cy="2309.6" r="0.36" fill-opacity="0.82"/><circle cx="463.7" cy="2265.9" r="0.95" fill-opacity="0.54"/><circle cx="458.5" cy="2271.7" r="0.79" fill-opacity="0.95"/><circle cx="465.4" cy="2289.1" r="0.90" fill-opacity="0.68"/><circle cx="454.3" cy="2284.3" r="0.89" fill-opacity="0.94"/><circle cx="467.6" cy="2260.0" r="0.69" fill-opacity="0.81"/><circle cx="446.2" cy="2256.8" r="0.70" fill-opacity="0.80"/><circle cx="439.4" cy="2229.3" r="0.88" fill-opacity="0.86"/><circle cx="442.1" cy="2257.3" r="0.79" fill-opacity="0.79"/><circle cx="465.7" cy="2262.1" r="0.80" fill-opacity="0.51"/><circle cx="464.0" cy="2276.7" r="0.64" fill-opacity="0.62"/><circle cx="457.2" cy="2285.5" r="0.90" fill-opacity="0.63"/><circle cx="455.4" cy="2223.0" r="0.53" fill-opacity="0.84"/><circle cx="480.0" cy="2262.2" r="0.89" fill-opacity="0.66"/><circle cx="471.2" cy="2282.6" r="0.83" fill-opacity="0.96"/><circle cx="481.2" cy="2302.1" r="0.58" fill-opacity="0.79"/><circle cx="467.9" cy="2250.8" r="0.85" fill-opacity="0.92"/><circle cx="476.8" cy="2286.7" r="0.92" fill-opacity="0.64"/><circle cx="451.9" cy="2237.4" r="0.48" fill-opacity="0.71"/><circle cx="469.6" cy="2278.9" r="0.65" fill-opacity="0.66"/><circle cx="481.1" cy="2298.4" r="0.39" fill-opacity="0.52"/><circle cx="471.4" cy="2301.4" r="0.37" fill-opacity="0.85"/><circle cx="461.0" cy="2273.9" r="0.36" fill-opacity="0.57"/><circle cx="478.1" cy="2263.4" r="0.36" fill-opacity="0.91"/><circle cx="461.4" cy="2243.6" r="0.73" fill-opacity="0.72"/><circle cx="469.7" cy="2279.3" r="0.74" fill-opacity="0.90"/><circle cx="471.9" cy="2309.2" r="0.64" fill-opacity="0.59"/><circle cx="450.0" cy="2223.0" r="0.63" fill-opacity="0.86"/><circle cx="457.5" cy="2238.3" r="0.77" fill-opacity="0.76"/><circle cx="475.1" cy="2277.9" r="0.80" fill-opacity="0.70"/><circle cx="473.9" cy="2294.1" r="0.91" fill-opacity="0.86"/><circle cx="455.6" cy="2233.8" r="0.62" fill-opacity="0.81"/><circle cx="465.3" cy="2304.8" r="0.88" fill-opacity="0.90"/><circle cx="481.6" cy="2307.9" r="0.63" fill-opacity="0.83"/><circle cx="456.3" cy="2240.6" r="0.73" fill-opacity="0.86"/><circle cx="443.8" cy="2241.4" r="0.89" fill-opacity="0.99"/><circle cx="459.9" cy="2310.9" r="0.54" fill-opacity="0.95"/><circle cx="468.7" cy="2299.9" r="0.56" fill-opacity="0.54"/><circle cx="450.0" cy="2262.1" r="0.64" fill-opacity="0.51"/><circle cx="466.7" cy="2295.6" r="0.39" fill-opacity="0.90"/><circle cx="450.8" cy="2237.7" r="0.43" fill-opacity="0.57"/><circle cx="478.2" cy="2269.0" r="0.78" fill-opacity="0.92"/><circle cx="478.1" cy="2284.7" r="0.92" fill-opacity="0.54"/><circle cx="456.1" cy="2242.1" r="0.67" fill-opacity="0.65"/><circle cx="462.9" cy="2288.3" r="0.86" fill-opacity="0.78"/><circle cx="453.3" cy="2250.4" r="0.58" fill-opacity="0.92"/><circle cx="477.3" cy="2303.9" r="0.93" fill-opacity="0.76"/><circle cx="482.5" cy="2274.1" r="0.47" fill-opacity="0.77"/><circle cx="463.5" cy="2267.8" r="0.93" fill-opacity="0.76"/><circle cx="461.8" cy="2258.5" r="0.83" fill-opacity="0.78"/><circle cx="463.7" cy="2266.7" r="0.67" fill-opacity="0.71"/><circle cx="471.2" cy="2309.1" r="0.90" fill-opacity="0.63"/><circle cx="470.8" cy="2265.1" r="0.84" fill-opacity="0.95"/><circle cx="471.0" cy="2265.4" r="0.54" fill-opacity="0.60"/><circle cx="471.4" cy="2278.2" r="0.82" fill-opacity="0.51"/><circle cx="456.9" cy="2239.7" r="0.49" fill-opacity="0.84"/><circle cx="454.2" cy="2251.3" r="0.41" fill-opacity="0.87"/><circle cx="463.4" cy="2244.8" r="0.61" fill-opacity="0.69"/><circle cx="473.2" cy="2259.6" r="0.67" fill-opacity="0.58"/><circle cx="450.9" cy="2240.6" r="0.67" fill-opacity="0.93"/><circle cx="458.3" cy="2277.7" r="0.86" fill-opacity="0.62"/><circle cx="476.6" cy="2289.4" r="0.54" fill-opacity="0.66"/><circle cx="456.4" cy="2306.0" r="0.48" fill-opacity="1.00"/><circle cx="477.0" cy="2302.8" r="0.79" fill-opacity="0.63"/><circle cx="461.6" cy="2230.8" r="0.85" fill-opacity="0.71"/><circle cx="476.9" cy="2293.9" r="0.76" fill-opacity="0.51"/><circle cx="465.2" cy="2240.3" r="0.76" fill-opacity="0.96"/><circle cx="481.9" cy="2310.1" r="0.80" fill-opacity="0.75"/><circle cx="475.4" cy="2284.4" r="0.46" fill-opacity="0.54"/><circle cx="468.9" cy="2273.8" r="0.44" fill-opacity="0.59"/><circle cx="473.0" cy="2240.6" r="0.41" fill-opacity="0.53"/><circle cx="452.2" cy="2308.6" r="0.63" fill-opacity="0.88"/><circle cx="451.5" cy="2251.7" r="0.61" fill-opacity="0.80"/><circle cx="457.4" cy="2223.2" r="0.77" fill-opacity="0.92"/><circle cx="445.3" cy="2238.5" r="0.59" fill-opacity="0.60"/><circle cx="462.3" cy="2237.0" r="0.66" fill-opacity="0.51"/><circle cx="477.1" cy="2303.3" r="0.87" fill-opacity="0.81"/><circle cx="450.5" cy="2258.8" r="0.71" fill-opacity="0.75"/><circle cx="476.9" cy="2311.4" r="0.90" fill-opacity="0.87"/><circle cx="464.4" cy="2292.8" r="0.84" fill-opacity="0.70"/><circle cx="482.5" cy="2303.6" r="0.81" fill-opacity="0.88"/><circle cx="454.1" cy="2258.9" r="0.78" fill-opacity="0.54"/><circle cx="460.6" cy="2253.1" r="0.56" fill-opacity="0.82"/><circle cx="467.7" cy="2278.8" r="0.49" fill-opacity="0.97"/><circle cx="461.8" cy="2282.6" r="0.69" fill-opacity="0.77"/><circle cx="473.4" cy="2257.5" r="0.95" fill-opacity="0.82"/><circle cx="470.8" cy="2285.8" r="0.36" fill-opacity="0.81"/><circle cx="446.1" cy="2289.2" r="0.50" fill-opacity="0.70"/><circle cx="458.8" cy="2226.6" r="0.41" fill-opacity="0.63"/><circle cx="480.9" cy="2304.4" r="0.68" fill-opacity="0.75"/><circle cx="449.1" cy="2310.0" r="0.73" fill-opacity="0.90"/><circle cx="445.0" cy="2228.9" r="0.71" fill-opacity="0.88"/><circle cx="460.4" cy="2226.1" r="0.63" fill-opacity="0.58"/><circle cx="462.8" cy="2267.1" r="0.72" fill-opacity="0.53"/><circle cx="464.8" cy="2308.0" r="0.71" fill-opacity="0.68"/><circle cx="465.7" cy="2248.0" r="0.74" fill-opacity="0.78"/><circle cx="459.2" cy="2247.8" r="0.36" fill-opacity="0.62"/><circle cx="448.9" cy="2225.9" r="0.44" fill-opacity="0.88"/><circle cx="474.1" cy="2257.5" r="0.38" fill-opacity="0.99"/><circle cx="465.4" cy="2307.9" r="0.39" fill-opacity="0.95"/><circle cx="441.0" cy="2261.1" r="0.50" fill-opacity="0.76"/><circle cx="477.0" cy="2307.3" r="0.78" fill-opacity="0.73"/><circle cx="479.3" cy="2311.1" r="0.42" fill-opacity="0.81"/><circle cx="453.6" cy="2263.5" r="0.47" fill-opacity="0.53"/><circle cx="472.1" cy="2270.1" r="0.75" fill-opacity="0.73"/><circle cx="465.2" cy="2260.2" r="0.95" fill-opacity="0.98"/><circle cx="459.4" cy="2288.8" r="0.49" fill-opacity="0.56"/><circle cx="475.4" cy="2303.2" r="0.57" fill-opacity="0.64"/><circle cx="457.1" cy="2284.3" r="0.69" fill-opacity="0.80"/><circle cx="467.8" cy="2279.6" r="0.50" fill-opacity="0.99"/><circle cx="467.8" cy="2305.3" r="0.88" fill-opacity="0.52"/><circle cx="455.0" cy="2227.5" r="0.72" fill-opacity="0.55"/><circle cx="474.7" cy="2271.3" r="0.39" fill-opacity="0.54"/><circle cx="457.1" cy="2283.5" r="0.57" fill-opacity="0.74"/><circle cx="455.5" cy="2241.2" r="0.56" fill-opacity="0.87"/><circle cx="475.6" cy="2298.3" r="0.84" fill-opacity="0.81"/><circle cx="472.3" cy="2292.0" r="0.48" fill-opacity="0.71"/><circle cx="463.2" cy="2245.5" r="0.74" fill-opacity="0.99"/><circle cx="453.9" cy="2251.6" r="0.68" fill-opacity="0.87"/><circle cx="466.1" cy="2305.8" r="0.41" fill-opacity="0.94"/><circle cx="460.2" cy="2229.1" r="0.40" fill-opacity="0.78"/><circle cx="461.9" cy="2266.1" r="0.82" fill-opacity="0.54"/><circle cx="452.7" cy="2241.4" r="0.75" fill-opacity="0.54"/><circle cx="459.0" cy="2249.6" r="0.52" fill-opacity="0.57"/><circle cx="449.2" cy="2254.6" r="0.79" fill-opacity="0.68"/><circle cx="454.6" cy="2232.7" r="0.90" fill-opacity="0.97"/><circle cx="462.6" cy="2305.1" r="0.61" fill-opacity="0.90"/><circle cx="457.6" cy="2249.7" r="0.91" fill-opacity="0.95"/><circle cx="456.7" cy="2255.3" r="0.58" fill-opacity="0.60"/><circle cx="472.7" cy="2273.3" r="0.83" fill-opacity="0.77"/><circle cx="466.9" cy="2298.1" r="0.81" fill-opacity="0.94"/><circle cx="458.6" cy="2247.6" r="0.36" fill-opacity="0.76"/><circle cx="445.7" cy="2271.5" r="0.74" fill-opacity="0.90"/><circle cx="447.2" cy="2227.8" r="0.68" fill-opacity="0.89"/><circle cx="468.8" cy="2229.6" r="0.40" fill-opacity="0.82"/><circle cx="464.7" cy="2235.1" r="0.80" fill-opacity="0.82"/><circle cx="462.6" cy="2244.3" r="0.66" fill-opacity="0.88"/><circle cx="477.1" cy="2257.9" r="0.55" fill-opacity="0.98"/><circle cx="457.9" cy="2283.2" r="0.78" fill-opacity="0.85"/><circle cx="473.7" cy="2305.3" r="0.60" fill-opacity="0.91"/><circle cx="477.7" cy="2282.7" r="0.85" fill-opacity="0.94"/><circle cx="461.9" cy="2309.2" r="0.73" fill-opacity="0.76"/><circle cx="472.1" cy="2286.6" r="0.60" fill-opacity="0.57"/><circle cx="461.4" cy="2289.5" r="0.94" fill-opacity="0.69"/><circle cx="460.9" cy="2237.3" r="0.53" fill-opacity="0.98"/><circle cx="464.8" cy="2227.4" r="0.54" fill-opacity="0.56"/><circle cx="468.8" cy="2281.0" r="0.39" fill-opacity="0.73"/><circle cx="461.4" cy="2275.2" r="0.90" fill-opacity="0.52"/><circle cx="459.6" cy="2231.9" r="0.49" fill-opacity="0.86"/><circle cx="472.4" cy="2276.1" r="0.48" fill-opacity="0.59"/><circle cx="467.3" cy="2247.6" r="0.54" fill-opacity="0.77"/><circle cx="484.0" cy="2296.4" r="0.64" fill-opacity="0.63"/><circle cx="479.4" cy="2302.8" r="0.68" fill-opacity="0.98"/><circle cx="460.7" cy="2265.9" r="0.48" fill-opacity="0.52"/><circle cx="476.6" cy="2308.2" r="0.67" fill-opacity="0.76"/><circle cx="452.5" cy="2247.0" r="0.94" fill-opacity="0.83"/><circle cx="471.6" cy="2294.5" r="0.78" fill-opacity="0.80"/><circle cx="462.3" cy="2236.3" r="0.51" fill-opacity="0.93"/><circle cx="471.6" cy="2269.0" r="0.73" fill-opacity="1.00"/><circle cx="455.6" cy="2246.3" r="0.81" fill-opacity="0.50"/><circle cx="470.4" cy="2296.7" r="0.86" fill-opacity="0.91"/><circle cx="455.0" cy="2229.5" r="0.41" fill-opacity="0.74"/><circle cx="477.8" cy="2264.6" r="0.92" fill-opacity="0.79"/><circle cx="467.2" cy="2300.0" r="0.60" fill-opacity="0.96"/><circle cx="449.2" cy="2241.0" r="0.44" fill-opacity="0.92"/><circle cx="458.4" cy="2250.3" r="0.54" fill-opacity="0.54"/><circle cx="447.9" cy="2249.8" r="0.57" fill-opacity="0.84"/><circle cx="459.9" cy="2231.6" r="0.59" fill-opacity="0.73"/><circle cx="480.3" cy="2310.0" r="0.36" fill-opacity="0.69"/><circle cx="458.4" cy="2286.6" r="0.49" fill-opacity="0.78"/><circle cx="490.4" cy="2263.7" r="0.83" fill-opacity="0.60"/><circle cx="469.1" cy="2278.1" r="0.52" fill-opacity="0.69"/><circle cx="463.5" cy="2271.1" r="0.59" fill-opacity="0.83"/><circle cx="459.8" cy="2288.6" r="0.69" fill-opacity="0.86"/><circle cx="479.6" cy="2252.2" r="0.85" fill-opacity="0.55"/><circle cx="465.8" cy="2238.4" r="0.59" fill-opacity="0.92"/><circle cx="472.0" cy="2275.9" r="0.44" fill-opacity="0.56"/><circle cx="466.4" cy="2259.0" r="0.39" fill-opacity="0.96"/><circle cx="451.3" cy="2260.9" r="0.81" fill-opacity="0.91"/><circle cx="461.8" cy="2257.1" r="0.55" fill-opacity="0.71"/><circle cx="444.6" cy="2223.4" r="0.94" fill-opacity="0.89"/><circle cx="475.9" cy="2282.1" r="0.72" fill-opacity="0.51"/><circle cx="454.9" cy="2252.1" r="0.41" fill-opacity="0.69"/><circle cx="475.5" cy="2268.4" r="0.82" fill-opacity="0.91"/><circle cx="475.1" cy="2277.6" r="0.89" fill-opacity="0.77"/><circle cx="474.2" cy="2254.1" r="0.65" fill-opacity="0.57"/><circle cx="479.5" cy="2286.9" r="0.78" fill-opacity="0.92"/><circle cx="458.1" cy="2239.9" r="0.92" fill-opacity="0.81"/><circle cx="464.5" cy="2240.0" r="0.70" fill-opacity="0.85"/><circle cx="464.8" cy="2252.0" r="0.91" fill-opacity="0.68"/><circle cx="480.6" cy="2264.1" r="0.43" fill-opacity="0.95"/><circle cx="482.0" cy="2271.5" r="0.69" fill-opacity="0.78"/><circle cx="482.6" cy="2246.1" r="0.84" fill-opacity="0.80"/><circle cx="443.2" cy="2233.2" r="0.84" fill-opacity="0.64"/><circle cx="473.6" cy="2303.6" r="0.85" fill-opacity="0.59"/><circle cx="477.0" cy="2271.9" r="0.40" fill-opacity="0.52"/><circle cx="459.5" cy="2250.0" r="0.75" fill-opacity="0.87"/><circle cx="449.8" cy="2256.7" r="0.36" fill-opacity="0.60"/><circle cx="456.0" cy="2264.6" r="0.44" fill-opacity="0.69"/><circle cx="471.2" cy="2273.8" r="0.51" fill-opacity="0.78"/><circle cx="470.8" cy="2252.2" r="0.74" fill-opacity="0.52"/><circle cx="481.6" cy="2283.1" r="0.71" fill-opacity="0.73"/><circle cx="480.2" cy="2259.4" r="0.72" fill-opacity="0.84"/><circle cx="470.3" cy="2291.0" r="0.95" fill-opacity="0.92"/><circle cx="462.3" cy="2299.8" r="0.60" fill-opacity="0.72"/><circle cx="474.9" cy="2273.5" r="0.67" fill-opacity="0.72"/><circle cx="467.3" cy="2304.3" r="0.54" fill-opacity="0.53"/><circle cx="480.7" cy="2288.0" r="0.71" fill-opacity="0.88"/><circle cx="453.0" cy="2249.7" r="0.71" fill-opacity="0.53"/><circle cx="448.0" cy="2233.3" r="0.59" fill-opacity="0.53"/><circle cx="472.2" cy="2285.2" r="0.67" fill-opacity="0.62"/><circle cx="456.2" cy="2249.9" r="0.39" fill-opacity="0.96"/><circle cx="478.2" cy="2309.9" r="0.75" fill-opacity="0.93"/><circle cx="465.5" cy="2260.3" r="0.80" fill-opacity="0.78"/><circle cx="467.4" cy="2304.2" r="0.41" fill-opacity="0.90"/><circle cx="437.2" cy="2233.3" r="0.35" fill-opacity="0.62"/><circle cx="456.1" cy="2249.2" r="0.54" fill-opacity="0.53"/><circle cx="476.3" cy="2303.5" r="0.56" fill-opacity="0.79"/><circle cx="448.1" cy="2226.2" r="0.37" fill-opacity="0.95"/><circle cx="441.3" cy="2250.0" r="0.94" fill-opacity="0.74"/><circle cx="459.3" cy="2240.8" r="0.53" fill-opacity="0.96"/><circle cx="478.4" cy="2303.6" r="0.56" fill-opacity="0.74"/><circle cx="473.7" cy="2237.6" r="0.95" fill-opacity="0.60"/><circle cx="474.0" cy="2279.5" r="0.38" fill-opacity="0.55"/><circle cx="485.9" cy="2288.0" r="0.54" fill-opacity="0.95"/><circle cx="471.4" cy="2301.1" r="0.77" fill-opacity="0.97"/><circle cx="459.5" cy="2262.5" r="0.40" fill-opacity="0.61"/><circle cx="459.8" cy="2250.0" r="0.46" fill-opacity="0.62"/><circle cx="462.9" cy="2282.5" r="0.82" fill-opacity="0.69"/><circle cx="476.7" cy="2282.2" r="0.49" fill-opacity="0.65"/><circle cx="466.0" cy="2306.3" r="0.75" fill-opacity="0.64"/><circle cx="488.3" cy="2280.2" r="0.61" fill-opacity="0.76"/><circle cx="478.6" cy="2270.3" r="0.38" fill-opacity="0.80"/><circle cx="460.6" cy="2247.9" r="0.40" fill-opacity="0.64"/><circle cx="485.5" cy="2290.8" r="0.50" fill-opacity="0.64"/><circle cx="473.0" cy="2271.9" r="0.94" fill-opacity="0.52"/><circle cx="480.9" cy="2264.0" r="0.80" fill-opacity="0.69"/><circle cx="468.3" cy="2306.6" r="0.68" fill-opacity="0.82"/><circle cx="462.2" cy="2254.7" r="0.74" fill-opacity="0.89"/><circle cx="448.9" cy="2269.0" r="0.76" fill-opacity="0.76"/><circle cx="473.5" cy="2308.6" r="0.45" fill-opacity="0.89"/><circle cx="453.5" cy="2237.0" r="0.61" fill-opacity="0.89"/><circle cx="466.8" cy="2293.6" r="0.82" fill-opacity="0.62"/><circle cx="466.8" cy="2266.5" r="0.65" fill-opacity="0.52"/><circle cx="478.0" cy="2276.3" r="0.78" fill-opacity="0.79"/><circle cx="474.6" cy="2301.4" r="0.36" fill-opacity="0.75"/><circle cx="468.1" cy="2261.6" r="0.62" fill-opacity="0.63"/><circle cx="487.6" cy="2294.7" r="0.69" fill-opacity="0.77"/><circle cx="479.0" cy="2294.0" r="0.49" fill-opacity="0.57"/><circle cx="468.4" cy="2250.3" r="0.72" fill-opacity="0.76"/><circle cx="462.2" cy="2246.1" r="0.70" fill-opacity="0.54"/><circle cx="474.5" cy="2296.7" r="0.45" fill-opacity="0.85"/><circle cx="477.4" cy="2297.6" r="0.82" fill-opacity="0.53"/><circle cx="459.3" cy="2259.4" r="0.93" fill-opacity="0.52"/><circle cx="469.3" cy="2266.5" r="0.81" fill-opacity="0.99"/><circle cx="444.4" cy="2235.2" r="0.37" fill-opacity="0.62"/><circle cx="476.7" cy="2303.0" r="0.43" fill-opacity="0.70"/><circle cx="458.0" cy="2249.1" r="0.37" fill-opacity="1.00"/><circle cx="471.8" cy="2291.5" r="0.79" fill-opacity="0.61"/><circle cx="454.1" cy="2245.0" r="0.63" fill-opacity="0.97"/><circle cx="460.3" cy="2255.1" r="0.55" fill-opacity="0.99"/><circle cx="475.6" cy="2277.6" r="0.74" fill-opacity="0.53"/><circle cx="464.0" cy="2253.2" r="0.77" fill-opacity="0.93"/><circle cx="474.0" cy="2275.7" r="0.59" fill-opacity="0.92"/><circle cx="456.4" cy="2256.7" r="0.82" fill-opacity="0.61"/><circle cx="466.3" cy="2253.6" r="0.45" fill-opacity="0.60"/><circle cx="435.7" cy="2250.1" r="0.76" fill-opacity="0.93"/><circle cx="453.6" cy="2228.6" r="0.51" fill-opacity="0.51"/><circle cx="451.1" cy="2238.6" r="0.51" fill-opacity="0.70"/><circle cx="472.0" cy="2306.0" r="0.57" fill-opacity="0.58"/><circle cx="467.2" cy="2307.2" r="0.57" fill-opacity="0.88"/><circle cx="470.9" cy="2287.8" r="0.54" fill-opacity="0.69"/><circle cx="455.7" cy="2229.6" r="0.88" fill-opacity="0.66"/><circle cx="467.6" cy="2292.1" r="0.59" fill-opacity="0.62"/><circle cx="455.5" cy="2225.7" r="0.44" fill-opacity="0.80"/><circle cx="452.2" cy="2224.9" r="0.68" fill-opacity="0.57"/><circle cx="477.4" cy="2286.3" r="0.51" fill-opacity="0.86"/><circle cx="471.8" cy="2282.6" r="0.52" fill-opacity="0.86"/><circle cx="467.7" cy="2258.9" r="0.58" fill-opacity="0.93"/><circle cx="457.5" cy="2242.6" r="0.48" fill-opacity="0.52"/><circle cx="463.0" cy="2224.2" r="0.73" fill-opacity="0.78"/><circle cx="478.3" cy="2295.6" r="0.75" fill-opacity="0.96"/><circle cx="458.2" cy="2241.7" r="0.76" fill-opacity="0.83"/><circle cx="478.3" cy="2308.9" r="0.73" fill-opacity="0.54"/><circle cx="459.0" cy="2260.9" r="0.59" fill-opacity="0.53"/><circle cx="458.0" cy="2256.9" r="0.52" fill-opacity="0.58"/><circle cx="471.8" cy="2258.6" r="0.64" fill-opacity="0.58"/><circle cx="468.6" cy="2282.5" r="0.56" fill-opacity="0.71"/><circle cx="461.8" cy="2235.7" r="0.70" fill-opacity="0.85"/><circle cx="465.5" cy="2272.3" r="0.58" fill-opacity="0.68"/><circle cx="454.5" cy="2227.7" r="0.59" fill-opacity="0.53"/><circle cx="456.7" cy="2267.1" r="0.55" fill-opacity="0.63"/><circle cx="450.6" cy="2224.1" r="0.56" fill-opacity="0.95"/><circle cx="465.4" cy="2273.5" r="0.46" fill-opacity="0.73"/><circle cx="479.9" cy="2278.0" r="0.92" fill-opacity="0.68"/><circle cx="480.2" cy="2274.4" r="0.73" fill-opacity="0.81"/><circle cx="458.1" cy="2259.4" r="0.60" fill-opacity="0.64"/><circle cx="477.7" cy="2297.5" r="0.90" fill-opacity="0.52"/><circle cx="452.0" cy="2234.4" r="0.65" fill-opacity="0.65"/><circle cx="467.0" cy="2254.8" r="0.47" fill-opacity="0.61"/><circle cx="467.9" cy="2283.9" r="0.49" fill-opacity="0.50"/><circle cx="460.9" cy="2271.5" r="0.65" fill-opacity="0.83"/><circle cx="469.9" cy="2271.9" r="0.72" fill-opacity="0.78"/><circle cx="479.1" cy="2297.6" r="0.56" fill-opacity="0.94"/><circle cx="459.8" cy="2250.5" r="0.78" fill-opacity="0.85"/><circle cx="484.2" cy="2284.5" r="0.45" fill-opacity="0.81"/><circle cx="461.3" cy="2266.6" r="0.69" fill-opacity="0.68"/><circle cx="460.7" cy="2248.0" r="0.49" fill-opacity="0.62"/><circle cx="451.0" cy="2251.6" r="0.46" fill-opacity="0.76"/><circle cx="460.5" cy="2233.5" r="0.41" fill-opacity="0.85"/><circle cx="458.5" cy="2232.3" r="0.62" fill-opacity="0.89"/><circle cx="473.5" cy="2265.7" r="0.87" fill-opacity="0.53"/><circle cx="460.4" cy="2294.5" r="0.50" fill-opacity="0.86"/><circle cx="470.0" cy="2251.7" r="0.55" fill-opacity="0.88"/><circle cx="477.1" cy="2298.7" r="0.60" fill-opacity="0.85"/><circle cx="457.8" cy="2278.7" r="0.85" fill-opacity="0.90"/><circle cx="448.5" cy="2233.4" r="0.49" fill-opacity="0.59"/><circle cx="464.1" cy="2223.2" r="0.70" fill-opacity="0.97"/><circle cx="483.1" cy="2310.3" r="0.60" fill-opacity="0.82"/><circle cx="472.6" cy="2258.1" r="0.91" fill-opacity="0.99"/><circle cx="455.0" cy="2226.4" r="0.38" fill-opacity="0.64"/><circle cx="465.5" cy="2288.5" r="0.95" fill-opacity="0.56"/><circle cx="472.1" cy="2252.0" r="0.64" fill-opacity="0.69"/><circle cx="463.0" cy="2250.1" r="0.83" fill-opacity="0.92"/><circle cx="451.5" cy="2247.8" r="0.81" fill-opacity="0.99"/><circle cx="470.2" cy="2257.4" r="0.77" fill-opacity="0.77"/><circle cx="474.2" cy="2294.8" r="0.41" fill-opacity="0.97"/><circle cx="464.2" cy="2244.9" r="0.64" fill-opacity="0.56"/><circle cx="472.4" cy="2251.5" r="0.44" fill-opacity="0.81"/><circle cx="461.8" cy="2246.9" r="0.49" fill-opacity="0.74"/><circle cx="462.2" cy="2255.3" r="0.39" fill-opacity="0.95"/><circle cx="463.9" cy="2250.1" r="0.40" fill-opacity="0.59"/><circle cx="470.4" cy="2266.0" r="0.87" fill-opacity="0.74"/><circle cx="463.2" cy="2259.7" r="0.83" fill-opacity="0.70"/><circle cx="444.3" cy="2227.2" r="0.72" fill-opacity="0.64"/><circle cx="469.9" cy="2307.4" r="0.87" fill-opacity="1.00"/><circle cx="470.7" cy="2262.3" r="0.46" fill-opacity="0.51"/><circle cx="446.6" cy="2237.4" r="0.42" fill-opacity="0.54"/><circle cx="462.3" cy="2254.7" r="0.66" fill-opacity="0.51"/><circle cx="451.9" cy="2241.1" r="0.93" fill-opacity="0.51"/><circle cx="471.1" cy="2270.0" r="0.79" fill-opacity="0.70"/><circle cx="457.1" cy="2295.1" r="0.85" fill-opacity="0.88"/><circle cx="491.5" cy="2311.7" r="0.59" fill-opacity="0.85"/><circle cx="472.3" cy="2244.8" r="0.36" fill-opacity="0.79"/><circle cx="453.3" cy="2242.7" r="0.74" fill-opacity="0.91"/><circle cx="467.6" cy="2255.2" r="0.73" fill-opacity="0.68"/><circle cx="466.8" cy="2247.4" r="0.41" fill-opacity="0.67"/><circle cx="465.6" cy="2289.5" r="0.48" fill-opacity="0.87"/><circle cx="463.7" cy="2271.7" r="0.41" fill-opacity="0.57"/><circle cx="457.2" cy="2253.9" r="0.61" fill-opacity="0.50"/><circle cx="458.9" cy="2267.7" r="0.67" fill-opacity="0.98"/><circle cx="463.4" cy="2240.6" r="0.88" fill-opacity="0.66"/><circle cx="489.7" cy="2290.6" r="0.61" fill-opacity="0.98"/><circle cx="472.1" cy="2286.3" r="0.76" fill-opacity="0.97"/><circle cx="467.6" cy="2251.3" r="0.46" fill-opacity="0.68"/><circle cx="482.0" cy="2312.0" r="0.58" fill-opacity="0.82"/><circle cx="480.2" cy="2302.8" r="0.65" fill-opacity="0.78"/><circle cx="447.9" cy="2232.4" r="0.85" fill-opacity="0.84"/><circle cx="459.6" cy="2263.2" r="0.58" fill-opacity="0.62"/><circle cx="459.4" cy="2276.7" r="0.69" fill-opacity="0.76"/><circle cx="449.2" cy="2224.9" r="0.71" fill-opacity="0.80"/><circle cx="467.0" cy="2306.8" r="0.44" fill-opacity="0.73"/><circle cx="474.3" cy="2312.4" r="0.79" fill-opacity="0.99"/><circle cx="455.7" cy="2258.6" r="0.87" fill-opacity="0.56"/><circle cx="468.6" cy="2312.1" r="0.85" fill-opacity="0.82"/><circle cx="474.1" cy="2307.3" r="0.85" fill-opacity="0.90"/><circle cx="468.4" cy="2268.6" r="0.87" fill-opacity="0.86"/><circle cx="459.9" cy="2244.8" r="0.83" fill-opacity="0.73"/><circle cx="469.5" cy="2270.8" r="0.52" fill-opacity="0.82"/><circle cx="452.3" cy="2228.7" r="0.68" fill-opacity="0.89"/><circle cx="465.6" cy="2266.7" r="0.86" fill-opacity="0.89"/><circle cx="481.2" cy="2272.0" r="0.89" fill-opacity="0.90"/><circle cx="455.4" cy="2235.8" r="0.37" fill-opacity="0.67"/><circle cx="475.2" cy="2300.7" r="0.85" fill-opacity="0.56"/><circle cx="446.0" cy="2238.5" r="0.72" fill-opacity="0.95"/><circle cx="467.1" cy="2228.5" r="0.94" fill-opacity="0.60"/><circle cx="477.4" cy="2279.3" r="0.47" fill-opacity="0.83"/><circle cx="454.0" cy="2261.2" r="0.36" fill-opacity="0.67"/><circle cx="456.6" cy="2250.7" r="0.71" fill-opacity="0.85"/><circle cx="453.6" cy="2238.4" r="0.43" fill-opacity="0.85"/><circle cx="467.2" cy="2264.4" r="0.91" fill-opacity="0.81"/></g>
<ellipse cx="467" cy="2310.3" rx="5.4" ry="2.1" fill="#4d4a30"/>
<path d="M473.4,2213.6 C467,2215 463,2217 460.6,2219.2 C456,2224 454,2228 452.5,2232.1 C449,2240 447,2244 444.5,2248.1 C440,2254 437,2257 434.9,2260.9 C431,2267 429.5,2272 429.3,2277 C429,2283 429.3,2288 430.1,2293 C432,2299 435,2303 438.1,2305.8 C443,2310 447,2312 450.9,2313.1 C456,2315 461,2315.5 465.4,2315.5 C470,2316 475,2316 479.8,2315.8 C486,2315 490,2314 494.2,2312.3 C500,2309 504,2306 507.1,2302.6 C511,2297 513,2292 513.5,2286.6 C514,2280 514,2275 513.5,2270.6 C512,2264 510,2260 507.1,2256.1 C503,2250 499,2245 495.8,2241.7 C492,2236 489,2230 486.2,2224.1 C484,2220 483,2217 481.4,2215.2 C478,2213.5 476,2213.4 473.4,2213.6 Z" fill="none" stroke="#55684a" stroke-width="0.7"/>
</svg></body></html>
